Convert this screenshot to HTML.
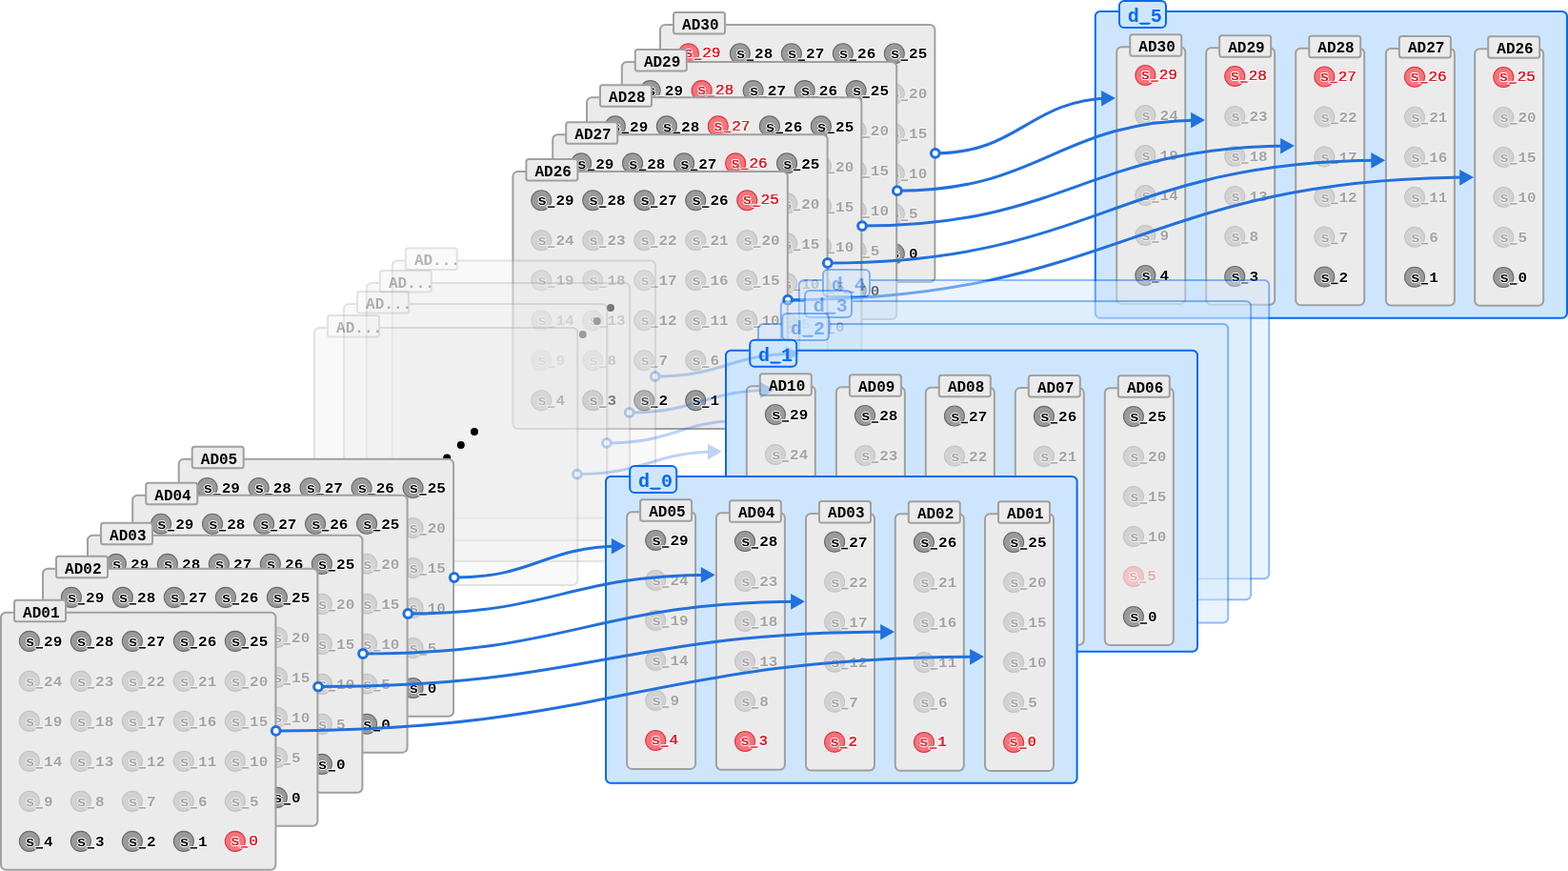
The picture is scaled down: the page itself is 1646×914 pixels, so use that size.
<!DOCTYPE html>
<html lang="en"><head><meta charset="utf-8"><title>AD stacks</title>
<style>
html,body{margin:0;padding:0;background:#fff}
body{width:1646px;height:914px;overflow:hidden}
svg{display:block;font-family:'Liberation Mono','DejaVu Sans Mono',monospace;will-change:transform}
.pn{fill:#ebebeb;stroke:#a0a0a0;stroke-width:2}
.lb{fill:#ebebeb;stroke:#a0a0a0;stroke-width:2}
.lt{font-size:16px;font-weight:700;fill:#000}
.dp{fill:#cee6fd;stroke:#0469f5;stroke-width:2}
.dl{fill:#cee6fd;stroke:#0469f5;stroke-width:2}
.dt{font-size:20px;font-weight:700;fill:#0469f5}
.cd{fill:#9b9b9b;stroke:#6a6a6a;stroke-width:1.1}
.cr{fill:#f6747b;stroke:#de3541;stroke-width:1.1}
.td{font-size:16px;font-weight:700;fill:#000;text-shadow:-1px 0 0 #fff,1px 0 0 #fff,0 1px 0 #fff,0 -1px 0 #fff}
.tr{font-size:16px;font-weight:400;fill:#dc2430;text-shadow:.2px 0 0 #dc2430,-.2px 0 0 #dc2430,-1.2px 0 0 #fff,1.2px 0 0 #fff,0 1.1px 0 #fff,0 -1.1px 0 #fff,.8px .8px 0 #fff,-.8px -.8px 0 #fff,.8px -.8px 0 #fff,-.8px .8px 0 #fff}
.tb{font-size:16px;font-weight:700;fill:#dc2430;text-shadow:-1px 0 0 #fff,1px 0 0 #fff,0 1px 0 #fff,0 -1px 0 #fff}
.ud{fill:#000;stroke:#fff;stroke-width:1.6;paint-order:stroke}
.ur{fill:#dc2430;stroke:#fff;stroke-width:1.6;paint-order:stroke}
.ub{fill:none;stroke:#0469f5;stroke-width:2.1}
.al{fill:none;stroke:#2170dc;stroke-width:3}
.ah{fill:#2170dc}
.ac{fill:#fff;stroke:#2170dc;stroke-width:3}
</style></head>
<body>
<svg width="1646" height="914" viewBox="0 0 1646 914">
<g><rect x="693" y="26.1" width="288.4" height="270" rx="5.2" class="pn"/><g><circle cx="722.85" cy="56.2" r="10.5" class="cr"/><text transform="translate(718.07 60.4) scale(1 .95)" class="tr">s_29</text><rect x="728.77" y="61.5" width="7.5" height="1.5" class="ur"/></g><g><circle cx="776.85" cy="56.2" r="10.5" class="cd"/><text transform="translate(772.85 61.3) scale(1 .95)" class="td">s_28</text><rect x="783.55" y="62.4" width="7.5" height="1.5" class="ud"/></g><g><circle cx="830.85" cy="56.2" r="10.5" class="cd"/><text transform="translate(826.85 61.3) scale(1 .95)" class="td">s_27</text><rect x="837.55" y="62.4" width="7.5" height="1.5" class="ud"/></g><g><circle cx="884.85" cy="56.2" r="10.5" class="cd"/><text transform="translate(880.85 61.3) scale(1 .95)" class="td">s_26</text><rect x="891.55" y="62.4" width="7.5" height="1.5" class="ud"/></g><g><circle cx="938.85" cy="56.2" r="10.5" class="cd"/><text transform="translate(934.85 61.3) scale(1 .95)" class="td">s_25</text><rect x="945.55" y="62.4" width="7.5" height="1.5" class="ud"/></g><g opacity=".3"><circle cx="722.85" cy="98.2" r="10.5" class="cd"/><text transform="translate(718.85 103.3) scale(1 .95)" class="td">s_24</text><rect x="729.55" y="104.4" width="7.5" height="1.5" class="ud"/></g><g opacity=".3"><circle cx="776.85" cy="98.2" r="10.5" class="cd"/><text transform="translate(772.85 103.3) scale(1 .95)" class="td">s_23</text><rect x="783.55" y="104.4" width="7.5" height="1.5" class="ud"/></g><g opacity=".3"><circle cx="830.85" cy="98.2" r="10.5" class="cd"/><text transform="translate(826.85 103.3) scale(1 .95)" class="td">s_22</text><rect x="837.55" y="104.4" width="7.5" height="1.5" class="ud"/></g><g opacity=".3"><circle cx="884.85" cy="98.2" r="10.5" class="cd"/><text transform="translate(880.85 103.3) scale(1 .95)" class="td">s_21</text><rect x="891.55" y="104.4" width="7.5" height="1.5" class="ud"/></g><g opacity=".3"><circle cx="938.85" cy="98.2" r="10.5" class="cd"/><text transform="translate(934.85 103.3) scale(1 .95)" class="td">s_20</text><rect x="945.55" y="104.4" width="7.5" height="1.5" class="ud"/></g><g opacity=".3"><circle cx="722.85" cy="140.2" r="10.5" class="cd"/><text transform="translate(718.85 145.3) scale(1 .95)" class="td">s_19</text><rect x="729.55" y="146.4" width="7.5" height="1.5" class="ud"/></g><g opacity=".3"><circle cx="776.85" cy="140.2" r="10.5" class="cd"/><text transform="translate(772.85 145.3) scale(1 .95)" class="td">s_18</text><rect x="783.55" y="146.4" width="7.5" height="1.5" class="ud"/></g><g opacity=".3"><circle cx="830.85" cy="140.2" r="10.5" class="cd"/><text transform="translate(826.85 145.3) scale(1 .95)" class="td">s_17</text><rect x="837.55" y="146.4" width="7.5" height="1.5" class="ud"/></g><g opacity=".3"><circle cx="884.85" cy="140.2" r="10.5" class="cd"/><text transform="translate(880.85 145.3) scale(1 .95)" class="td">s_16</text><rect x="891.55" y="146.4" width="7.5" height="1.5" class="ud"/></g><g opacity=".3"><circle cx="938.85" cy="140.2" r="10.5" class="cd"/><text transform="translate(934.85 145.3) scale(1 .95)" class="td">s_15</text><rect x="945.55" y="146.4" width="7.5" height="1.5" class="ud"/></g><g opacity=".3"><circle cx="722.85" cy="182.2" r="10.5" class="cd"/><text transform="translate(718.85 187.3) scale(1 .95)" class="td">s_14</text><rect x="729.55" y="188.4" width="7.5" height="1.5" class="ud"/></g><g opacity=".3"><circle cx="776.85" cy="182.2" r="10.5" class="cd"/><text transform="translate(772.85 187.3) scale(1 .95)" class="td">s_13</text><rect x="783.55" y="188.4" width="7.5" height="1.5" class="ud"/></g><g opacity=".3"><circle cx="830.85" cy="182.2" r="10.5" class="cd"/><text transform="translate(826.85 187.3) scale(1 .95)" class="td">s_12</text><rect x="837.55" y="188.4" width="7.5" height="1.5" class="ud"/></g><g opacity=".3"><circle cx="884.85" cy="182.2" r="10.5" class="cd"/><text transform="translate(880.85 187.3) scale(1 .95)" class="td">s_11</text><rect x="891.55" y="188.4" width="7.5" height="1.5" class="ud"/></g><g opacity=".3"><circle cx="938.85" cy="182.2" r="10.5" class="cd"/><text transform="translate(934.85 187.3) scale(1 .95)" class="td">s_10</text><rect x="945.55" y="188.4" width="7.5" height="1.5" class="ud"/></g><g opacity=".3"><circle cx="722.85" cy="224.2" r="10.5" class="cd"/><text transform="translate(718.85 229.3) scale(1 .95)" class="td">s_9</text><rect x="729.55" y="230.4" width="7.5" height="1.5" class="ud"/></g><g opacity=".3"><circle cx="776.85" cy="224.2" r="10.5" class="cd"/><text transform="translate(772.85 229.3) scale(1 .95)" class="td">s_8</text><rect x="783.55" y="230.4" width="7.5" height="1.5" class="ud"/></g><g opacity=".3"><circle cx="830.85" cy="224.2" r="10.5" class="cd"/><text transform="translate(826.85 229.3) scale(1 .95)" class="td">s_7</text><rect x="837.55" y="230.4" width="7.5" height="1.5" class="ud"/></g><g opacity=".3"><circle cx="884.85" cy="224.2" r="10.5" class="cd"/><text transform="translate(880.85 229.3) scale(1 .95)" class="td">s_6</text><rect x="891.55" y="230.4" width="7.5" height="1.5" class="ud"/></g><g opacity=".3"><circle cx="938.85" cy="224.2" r="10.5" class="cd"/><text transform="translate(934.85 229.3) scale(1 .95)" class="td">s_5</text><rect x="945.55" y="230.4" width="7.5" height="1.5" class="ud"/></g><g><circle cx="722.85" cy="266.2" r="10.5" class="cd"/><text transform="translate(718.85 271.3) scale(1 .95)" class="td">s_4</text><rect x="729.55" y="272.4" width="7.5" height="1.5" class="ud"/></g><g><circle cx="776.85" cy="266.2" r="10.5" class="cd"/><text transform="translate(772.85 271.3) scale(1 .95)" class="td">s_3</text><rect x="783.55" y="272.4" width="7.5" height="1.5" class="ud"/></g><g><circle cx="830.85" cy="266.2" r="10.5" class="cd"/><text transform="translate(826.85 271.3) scale(1 .95)" class="td">s_2</text><rect x="837.55" y="272.4" width="7.5" height="1.5" class="ud"/></g><g><circle cx="884.85" cy="266.2" r="10.5" class="cd"/><text transform="translate(880.85 271.3) scale(1 .95)" class="td">s_1</text><rect x="891.55" y="272.4" width="7.5" height="1.5" class="ud"/></g><g><circle cx="938.85" cy="266.2" r="10.5" class="cd"/><text transform="translate(934.85 271.3) scale(1 .95)" class="td">s_0</text><rect x="945.55" y="272.4" width="7.5" height="1.5" class="ud"/></g><rect x="707" y="13.1" width="54" height="22.5" rx="2.5" class="lb"/><text x="716.1" y="31" class="lt">AD30</text></g>
<g><rect x="652.8" y="65" width="288.4" height="270" rx="5.2" class="pn"/><g><circle cx="682.65" cy="95.1" r="10.5" class="cd"/><text transform="translate(678.65 100.2) scale(1 .95)" class="td">s_29</text><rect x="689.35" y="101.3" width="7.5" height="1.5" class="ud"/></g><g><circle cx="736.65" cy="95.1" r="10.5" class="cr"/><text transform="translate(731.87 99.3) scale(1 .95)" class="tr">s_28</text><rect x="742.57" y="100.4" width="7.5" height="1.5" class="ur"/></g><g><circle cx="790.65" cy="95.1" r="10.5" class="cd"/><text transform="translate(786.65 100.2) scale(1 .95)" class="td">s_27</text><rect x="797.35" y="101.3" width="7.5" height="1.5" class="ud"/></g><g><circle cx="844.65" cy="95.1" r="10.5" class="cd"/><text transform="translate(840.65 100.2) scale(1 .95)" class="td">s_26</text><rect x="851.35" y="101.3" width="7.5" height="1.5" class="ud"/></g><g><circle cx="898.65" cy="95.1" r="10.5" class="cd"/><text transform="translate(894.65 100.2) scale(1 .95)" class="td">s_25</text><rect x="905.35" y="101.3" width="7.5" height="1.5" class="ud"/></g><g opacity=".3"><circle cx="682.65" cy="137.1" r="10.5" class="cd"/><text transform="translate(678.65 142.2) scale(1 .95)" class="td">s_24</text><rect x="689.35" y="143.3" width="7.5" height="1.5" class="ud"/></g><g opacity=".3"><circle cx="736.65" cy="137.1" r="10.5" class="cd"/><text transform="translate(732.65 142.2) scale(1 .95)" class="td">s_23</text><rect x="743.35" y="143.3" width="7.5" height="1.5" class="ud"/></g><g opacity=".3"><circle cx="790.65" cy="137.1" r="10.5" class="cd"/><text transform="translate(786.65 142.2) scale(1 .95)" class="td">s_22</text><rect x="797.35" y="143.3" width="7.5" height="1.5" class="ud"/></g><g opacity=".3"><circle cx="844.65" cy="137.1" r="10.5" class="cd"/><text transform="translate(840.65 142.2) scale(1 .95)" class="td">s_21</text><rect x="851.35" y="143.3" width="7.5" height="1.5" class="ud"/></g><g opacity=".3"><circle cx="898.65" cy="137.1" r="10.5" class="cd"/><text transform="translate(894.65 142.2) scale(1 .95)" class="td">s_20</text><rect x="905.35" y="143.3" width="7.5" height="1.5" class="ud"/></g><g opacity=".3"><circle cx="682.65" cy="179.1" r="10.5" class="cd"/><text transform="translate(678.65 184.2) scale(1 .95)" class="td">s_19</text><rect x="689.35" y="185.3" width="7.5" height="1.5" class="ud"/></g><g opacity=".3"><circle cx="736.65" cy="179.1" r="10.5" class="cd"/><text transform="translate(732.65 184.2) scale(1 .95)" class="td">s_18</text><rect x="743.35" y="185.3" width="7.5" height="1.5" class="ud"/></g><g opacity=".3"><circle cx="790.65" cy="179.1" r="10.5" class="cd"/><text transform="translate(786.65 184.2) scale(1 .95)" class="td">s_17</text><rect x="797.35" y="185.3" width="7.5" height="1.5" class="ud"/></g><g opacity=".3"><circle cx="844.65" cy="179.1" r="10.5" class="cd"/><text transform="translate(840.65 184.2) scale(1 .95)" class="td">s_16</text><rect x="851.35" y="185.3" width="7.5" height="1.5" class="ud"/></g><g opacity=".3"><circle cx="898.65" cy="179.1" r="10.5" class="cd"/><text transform="translate(894.65 184.2) scale(1 .95)" class="td">s_15</text><rect x="905.35" y="185.3" width="7.5" height="1.5" class="ud"/></g><g opacity=".3"><circle cx="682.65" cy="221.1" r="10.5" class="cd"/><text transform="translate(678.65 226.2) scale(1 .95)" class="td">s_14</text><rect x="689.35" y="227.3" width="7.5" height="1.5" class="ud"/></g><g opacity=".3"><circle cx="736.65" cy="221.1" r="10.5" class="cd"/><text transform="translate(732.65 226.2) scale(1 .95)" class="td">s_13</text><rect x="743.35" y="227.3" width="7.5" height="1.5" class="ud"/></g><g opacity=".3"><circle cx="790.65" cy="221.1" r="10.5" class="cd"/><text transform="translate(786.65 226.2) scale(1 .95)" class="td">s_12</text><rect x="797.35" y="227.3" width="7.5" height="1.5" class="ud"/></g><g opacity=".3"><circle cx="844.65" cy="221.1" r="10.5" class="cd"/><text transform="translate(840.65 226.2) scale(1 .95)" class="td">s_11</text><rect x="851.35" y="227.3" width="7.5" height="1.5" class="ud"/></g><g opacity=".3"><circle cx="898.65" cy="221.1" r="10.5" class="cd"/><text transform="translate(894.65 226.2) scale(1 .95)" class="td">s_10</text><rect x="905.35" y="227.3" width="7.5" height="1.5" class="ud"/></g><g opacity=".3"><circle cx="682.65" cy="263.1" r="10.5" class="cd"/><text transform="translate(678.65 268.2) scale(1 .95)" class="td">s_9</text><rect x="689.35" y="269.3" width="7.5" height="1.5" class="ud"/></g><g opacity=".3"><circle cx="736.65" cy="263.1" r="10.5" class="cd"/><text transform="translate(732.65 268.2) scale(1 .95)" class="td">s_8</text><rect x="743.35" y="269.3" width="7.5" height="1.5" class="ud"/></g><g opacity=".3"><circle cx="790.65" cy="263.1" r="10.5" class="cd"/><text transform="translate(786.65 268.2) scale(1 .95)" class="td">s_7</text><rect x="797.35" y="269.3" width="7.5" height="1.5" class="ud"/></g><g opacity=".3"><circle cx="844.65" cy="263.1" r="10.5" class="cd"/><text transform="translate(840.65 268.2) scale(1 .95)" class="td">s_6</text><rect x="851.35" y="269.3" width="7.5" height="1.5" class="ud"/></g><g opacity=".3"><circle cx="898.65" cy="263.1" r="10.5" class="cd"/><text transform="translate(894.65 268.2) scale(1 .95)" class="td">s_5</text><rect x="905.35" y="269.3" width="7.5" height="1.5" class="ud"/></g><g><circle cx="682.65" cy="305.1" r="10.5" class="cd"/><text transform="translate(678.65 310.2) scale(1 .95)" class="td">s_4</text><rect x="689.35" y="311.3" width="7.5" height="1.5" class="ud"/></g><g><circle cx="736.65" cy="305.1" r="10.5" class="cd"/><text transform="translate(732.65 310.2) scale(1 .95)" class="td">s_3</text><rect x="743.35" y="311.3" width="7.5" height="1.5" class="ud"/></g><g><circle cx="790.65" cy="305.1" r="10.5" class="cd"/><text transform="translate(786.65 310.2) scale(1 .95)" class="td">s_2</text><rect x="797.35" y="311.3" width="7.5" height="1.5" class="ud"/></g><g><circle cx="844.65" cy="305.1" r="10.5" class="cd"/><text transform="translate(840.65 310.2) scale(1 .95)" class="td">s_1</text><rect x="851.35" y="311.3" width="7.5" height="1.5" class="ud"/></g><g><circle cx="898.65" cy="305.1" r="10.5" class="cd"/><text transform="translate(894.65 310.2) scale(1 .95)" class="td">s_0</text><rect x="905.35" y="311.3" width="7.5" height="1.5" class="ud"/></g><rect x="666.8" y="52" width="54" height="22.5" rx="2.5" class="lb"/><text x="675.9" y="69.9" class="lt">AD29</text></g>
<g><rect x="616" y="102.3" width="288.4" height="270" rx="5.2" class="pn"/><g><circle cx="645.85" cy="132.4" r="10.5" class="cd"/><text transform="translate(641.85 137.5) scale(1 .95)" class="td">s_29</text><rect x="652.55" y="138.6" width="7.5" height="1.5" class="ud"/></g><g><circle cx="699.85" cy="132.4" r="10.5" class="cd"/><text transform="translate(695.85 137.5) scale(1 .95)" class="td">s_28</text><rect x="706.55" y="138.6" width="7.5" height="1.5" class="ud"/></g><g><circle cx="753.85" cy="132.4" r="10.5" class="cr"/><text transform="translate(749.07 136.6) scale(1 .95)" class="tr">s_27</text><rect x="759.77" y="137.7" width="7.5" height="1.5" class="ur"/></g><g><circle cx="807.85" cy="132.4" r="10.5" class="cd"/><text transform="translate(803.85 137.5) scale(1 .95)" class="td">s_26</text><rect x="814.55" y="138.6" width="7.5" height="1.5" class="ud"/></g><g><circle cx="861.85" cy="132.4" r="10.5" class="cd"/><text transform="translate(857.85 137.5) scale(1 .95)" class="td">s_25</text><rect x="868.55" y="138.6" width="7.5" height="1.5" class="ud"/></g><g opacity=".3"><circle cx="645.85" cy="174.4" r="10.5" class="cd"/><text transform="translate(641.85 179.5) scale(1 .95)" class="td">s_24</text><rect x="652.55" y="180.6" width="7.5" height="1.5" class="ud"/></g><g opacity=".3"><circle cx="699.85" cy="174.4" r="10.5" class="cd"/><text transform="translate(695.85 179.5) scale(1 .95)" class="td">s_23</text><rect x="706.55" y="180.6" width="7.5" height="1.5" class="ud"/></g><g opacity=".3"><circle cx="753.85" cy="174.4" r="10.5" class="cd"/><text transform="translate(749.85 179.5) scale(1 .95)" class="td">s_22</text><rect x="760.55" y="180.6" width="7.5" height="1.5" class="ud"/></g><g opacity=".3"><circle cx="807.85" cy="174.4" r="10.5" class="cd"/><text transform="translate(803.85 179.5) scale(1 .95)" class="td">s_21</text><rect x="814.55" y="180.6" width="7.5" height="1.5" class="ud"/></g><g opacity=".3"><circle cx="861.85" cy="174.4" r="10.5" class="cd"/><text transform="translate(857.85 179.5) scale(1 .95)" class="td">s_20</text><rect x="868.55" y="180.6" width="7.5" height="1.5" class="ud"/></g><g opacity=".3"><circle cx="645.85" cy="216.4" r="10.5" class="cd"/><text transform="translate(641.85 221.5) scale(1 .95)" class="td">s_19</text><rect x="652.55" y="222.6" width="7.5" height="1.5" class="ud"/></g><g opacity=".3"><circle cx="699.85" cy="216.4" r="10.5" class="cd"/><text transform="translate(695.85 221.5) scale(1 .95)" class="td">s_18</text><rect x="706.55" y="222.6" width="7.5" height="1.5" class="ud"/></g><g opacity=".3"><circle cx="753.85" cy="216.4" r="10.5" class="cd"/><text transform="translate(749.85 221.5) scale(1 .95)" class="td">s_17</text><rect x="760.55" y="222.6" width="7.5" height="1.5" class="ud"/></g><g opacity=".3"><circle cx="807.85" cy="216.4" r="10.5" class="cd"/><text transform="translate(803.85 221.5) scale(1 .95)" class="td">s_16</text><rect x="814.55" y="222.6" width="7.5" height="1.5" class="ud"/></g><g opacity=".3"><circle cx="861.85" cy="216.4" r="10.5" class="cd"/><text transform="translate(857.85 221.5) scale(1 .95)" class="td">s_15</text><rect x="868.55" y="222.6" width="7.5" height="1.5" class="ud"/></g><g opacity=".3"><circle cx="645.85" cy="258.4" r="10.5" class="cd"/><text transform="translate(641.85 263.5) scale(1 .95)" class="td">s_14</text><rect x="652.55" y="264.6" width="7.5" height="1.5" class="ud"/></g><g opacity=".3"><circle cx="699.85" cy="258.4" r="10.5" class="cd"/><text transform="translate(695.85 263.5) scale(1 .95)" class="td">s_13</text><rect x="706.55" y="264.6" width="7.5" height="1.5" class="ud"/></g><g opacity=".3"><circle cx="753.85" cy="258.4" r="10.5" class="cd"/><text transform="translate(749.85 263.5) scale(1 .95)" class="td">s_12</text><rect x="760.55" y="264.6" width="7.5" height="1.5" class="ud"/></g><g opacity=".3"><circle cx="807.85" cy="258.4" r="10.5" class="cd"/><text transform="translate(803.85 263.5) scale(1 .95)" class="td">s_11</text><rect x="814.55" y="264.6" width="7.5" height="1.5" class="ud"/></g><g opacity=".3"><circle cx="861.85" cy="258.4" r="10.5" class="cd"/><text transform="translate(857.85 263.5) scale(1 .95)" class="td">s_10</text><rect x="868.55" y="264.6" width="7.5" height="1.5" class="ud"/></g><g opacity=".3"><circle cx="645.85" cy="300.4" r="10.5" class="cd"/><text transform="translate(641.85 305.5) scale(1 .95)" class="td">s_9</text><rect x="652.55" y="306.6" width="7.5" height="1.5" class="ud"/></g><g opacity=".3"><circle cx="699.85" cy="300.4" r="10.5" class="cd"/><text transform="translate(695.85 305.5) scale(1 .95)" class="td">s_8</text><rect x="706.55" y="306.6" width="7.5" height="1.5" class="ud"/></g><g opacity=".3"><circle cx="753.85" cy="300.4" r="10.5" class="cd"/><text transform="translate(749.85 305.5) scale(1 .95)" class="td">s_7</text><rect x="760.55" y="306.6" width="7.5" height="1.5" class="ud"/></g><g opacity=".3"><circle cx="807.85" cy="300.4" r="10.5" class="cd"/><text transform="translate(803.85 305.5) scale(1 .95)" class="td">s_6</text><rect x="814.55" y="306.6" width="7.5" height="1.5" class="ud"/></g><g opacity=".3"><circle cx="861.85" cy="300.4" r="10.5" class="cd"/><text transform="translate(857.85 305.5) scale(1 .95)" class="td">s_5</text><rect x="868.55" y="306.6" width="7.5" height="1.5" class="ud"/></g><g><circle cx="645.85" cy="342.4" r="10.5" class="cd"/><text transform="translate(641.85 347.5) scale(1 .95)" class="td">s_4</text><rect x="652.55" y="348.6" width="7.5" height="1.5" class="ud"/></g><g><circle cx="699.85" cy="342.4" r="10.5" class="cd"/><text transform="translate(695.85 347.5) scale(1 .95)" class="td">s_3</text><rect x="706.55" y="348.6" width="7.5" height="1.5" class="ud"/></g><g><circle cx="753.85" cy="342.4" r="10.5" class="cd"/><text transform="translate(749.85 347.5) scale(1 .95)" class="td">s_2</text><rect x="760.55" y="348.6" width="7.5" height="1.5" class="ud"/></g><g><circle cx="807.85" cy="342.4" r="10.5" class="cd"/><text transform="translate(803.85 347.5) scale(1 .95)" class="td">s_1</text><rect x="814.55" y="348.6" width="7.5" height="1.5" class="ud"/></g><g><circle cx="861.85" cy="342.4" r="10.5" class="cd"/><text transform="translate(857.85 347.5) scale(1 .95)" class="td">s_0</text><rect x="868.55" y="348.6" width="7.5" height="1.5" class="ud"/></g><rect x="630" y="89.3" width="54" height="22.5" rx="2.5" class="lb"/><text x="639.1" y="107.2" class="lt">AD28</text></g>
<g><rect x="580.2" y="141.3" width="288.4" height="270" rx="5.2" class="pn"/><g><circle cx="610.05" cy="171.4" r="10.5" class="cd"/><text transform="translate(606.05 176.5) scale(1 .95)" class="td">s_29</text><rect x="616.75" y="177.6" width="7.5" height="1.5" class="ud"/></g><g><circle cx="664.05" cy="171.4" r="10.5" class="cd"/><text transform="translate(660.05 176.5) scale(1 .95)" class="td">s_28</text><rect x="670.75" y="177.6" width="7.5" height="1.5" class="ud"/></g><g><circle cx="718.05" cy="171.4" r="10.5" class="cd"/><text transform="translate(714.05 176.5) scale(1 .95)" class="td">s_27</text><rect x="724.75" y="177.6" width="7.5" height="1.5" class="ud"/></g><g><circle cx="772.05" cy="171.4" r="10.5" class="cr"/><text transform="translate(767.27 175.6) scale(1 .95)" class="tr">s_26</text><rect x="777.97" y="176.7" width="7.5" height="1.5" class="ur"/></g><g><circle cx="826.05" cy="171.4" r="10.5" class="cd"/><text transform="translate(822.05 176.5) scale(1 .95)" class="td">s_25</text><rect x="832.75" y="177.6" width="7.5" height="1.5" class="ud"/></g><g opacity=".3"><circle cx="610.05" cy="213.4" r="10.5" class="cd"/><text transform="translate(606.05 218.5) scale(1 .95)" class="td">s_24</text><rect x="616.75" y="219.6" width="7.5" height="1.5" class="ud"/></g><g opacity=".3"><circle cx="664.05" cy="213.4" r="10.5" class="cd"/><text transform="translate(660.05 218.5) scale(1 .95)" class="td">s_23</text><rect x="670.75" y="219.6" width="7.5" height="1.5" class="ud"/></g><g opacity=".3"><circle cx="718.05" cy="213.4" r="10.5" class="cd"/><text transform="translate(714.05 218.5) scale(1 .95)" class="td">s_22</text><rect x="724.75" y="219.6" width="7.5" height="1.5" class="ud"/></g><g opacity=".3"><circle cx="772.05" cy="213.4" r="10.5" class="cd"/><text transform="translate(768.05 218.5) scale(1 .95)" class="td">s_21</text><rect x="778.75" y="219.6" width="7.5" height="1.5" class="ud"/></g><g opacity=".3"><circle cx="826.05" cy="213.4" r="10.5" class="cd"/><text transform="translate(822.05 218.5) scale(1 .95)" class="td">s_20</text><rect x="832.75" y="219.6" width="7.5" height="1.5" class="ud"/></g><g opacity=".3"><circle cx="610.05" cy="255.4" r="10.5" class="cd"/><text transform="translate(606.05 260.5) scale(1 .95)" class="td">s_19</text><rect x="616.75" y="261.6" width="7.5" height="1.5" class="ud"/></g><g opacity=".3"><circle cx="664.05" cy="255.4" r="10.5" class="cd"/><text transform="translate(660.05 260.5) scale(1 .95)" class="td">s_18</text><rect x="670.75" y="261.6" width="7.5" height="1.5" class="ud"/></g><g opacity=".3"><circle cx="718.05" cy="255.4" r="10.5" class="cd"/><text transform="translate(714.05 260.5) scale(1 .95)" class="td">s_17</text><rect x="724.75" y="261.6" width="7.5" height="1.5" class="ud"/></g><g opacity=".3"><circle cx="772.05" cy="255.4" r="10.5" class="cd"/><text transform="translate(768.05 260.5) scale(1 .95)" class="td">s_16</text><rect x="778.75" y="261.6" width="7.5" height="1.5" class="ud"/></g><g opacity=".3"><circle cx="826.05" cy="255.4" r="10.5" class="cd"/><text transform="translate(822.05 260.5) scale(1 .95)" class="td">s_15</text><rect x="832.75" y="261.6" width="7.5" height="1.5" class="ud"/></g><g opacity=".3"><circle cx="610.05" cy="297.4" r="10.5" class="cd"/><text transform="translate(606.05 302.5) scale(1 .95)" class="td">s_14</text><rect x="616.75" y="303.6" width="7.5" height="1.5" class="ud"/></g><g opacity=".3"><circle cx="664.05" cy="297.4" r="10.5" class="cd"/><text transform="translate(660.05 302.5) scale(1 .95)" class="td">s_13</text><rect x="670.75" y="303.6" width="7.5" height="1.5" class="ud"/></g><g opacity=".3"><circle cx="718.05" cy="297.4" r="10.5" class="cd"/><text transform="translate(714.05 302.5) scale(1 .95)" class="td">s_12</text><rect x="724.75" y="303.6" width="7.5" height="1.5" class="ud"/></g><g opacity=".3"><circle cx="772.05" cy="297.4" r="10.5" class="cd"/><text transform="translate(768.05 302.5) scale(1 .95)" class="td">s_11</text><rect x="778.75" y="303.6" width="7.5" height="1.5" class="ud"/></g><g opacity=".3"><circle cx="826.05" cy="297.4" r="10.5" class="cd"/><text transform="translate(822.05 302.5) scale(1 .95)" class="td">s_10</text><rect x="832.75" y="303.6" width="7.5" height="1.5" class="ud"/></g><g opacity=".3"><circle cx="610.05" cy="339.4" r="10.5" class="cd"/><text transform="translate(606.05 344.5) scale(1 .95)" class="td">s_9</text><rect x="616.75" y="345.6" width="7.5" height="1.5" class="ud"/></g><g opacity=".3"><circle cx="664.05" cy="339.4" r="10.5" class="cd"/><text transform="translate(660.05 344.5) scale(1 .95)" class="td">s_8</text><rect x="670.75" y="345.6" width="7.5" height="1.5" class="ud"/></g><g opacity=".3"><circle cx="718.05" cy="339.4" r="10.5" class="cd"/><text transform="translate(714.05 344.5) scale(1 .95)" class="td">s_7</text><rect x="724.75" y="345.6" width="7.5" height="1.5" class="ud"/></g><g opacity=".3"><circle cx="772.05" cy="339.4" r="10.5" class="cd"/><text transform="translate(768.05 344.5) scale(1 .95)" class="td">s_6</text><rect x="778.75" y="345.6" width="7.5" height="1.5" class="ud"/></g><g opacity=".3"><circle cx="826.05" cy="339.4" r="10.5" class="cd"/><text transform="translate(822.05 344.5) scale(1 .95)" class="td">s_5</text><rect x="832.75" y="345.6" width="7.5" height="1.5" class="ud"/></g><g><circle cx="610.05" cy="381.4" r="10.5" class="cd"/><text transform="translate(606.05 386.5) scale(1 .95)" class="td">s_4</text><rect x="616.75" y="387.6" width="7.5" height="1.5" class="ud"/></g><g><circle cx="664.05" cy="381.4" r="10.5" class="cd"/><text transform="translate(660.05 386.5) scale(1 .95)" class="td">s_3</text><rect x="670.75" y="387.6" width="7.5" height="1.5" class="ud"/></g><g><circle cx="718.05" cy="381.4" r="10.5" class="cd"/><text transform="translate(714.05 386.5) scale(1 .95)" class="td">s_2</text><rect x="724.75" y="387.6" width="7.5" height="1.5" class="ud"/></g><g><circle cx="772.05" cy="381.4" r="10.5" class="cd"/><text transform="translate(768.05 386.5) scale(1 .95)" class="td">s_1</text><rect x="778.75" y="387.6" width="7.5" height="1.5" class="ud"/></g><g><circle cx="826.05" cy="381.4" r="10.5" class="cd"/><text transform="translate(822.05 386.5) scale(1 .95)" class="td">s_0</text><rect x="832.75" y="387.6" width="7.5" height="1.5" class="ud"/></g><rect x="594.2" y="128.3" width="54" height="22.5" rx="2.5" class="lb"/><text x="603.3" y="146.2" class="lt">AD27</text></g>
<g><rect x="538.4" y="180.1" width="288.4" height="270" rx="5.2" class="pn"/><g><circle cx="568.25" cy="210.2" r="10.5" class="cd"/><text transform="translate(564.25 215.3) scale(1 .95)" class="td">s_29</text><rect x="574.95" y="216.4" width="7.5" height="1.5" class="ud"/></g><g><circle cx="622.25" cy="210.2" r="10.5" class="cd"/><text transform="translate(618.25 215.3) scale(1 .95)" class="td">s_28</text><rect x="628.95" y="216.4" width="7.5" height="1.5" class="ud"/></g><g><circle cx="676.25" cy="210.2" r="10.5" class="cd"/><text transform="translate(672.25 215.3) scale(1 .95)" class="td">s_27</text><rect x="682.95" y="216.4" width="7.5" height="1.5" class="ud"/></g><g><circle cx="730.25" cy="210.2" r="10.5" class="cd"/><text transform="translate(726.25 215.3) scale(1 .95)" class="td">s_26</text><rect x="736.95" y="216.4" width="7.5" height="1.5" class="ud"/></g><g><circle cx="784.25" cy="210.2" r="10.5" class="cr"/><text transform="translate(779.47 214.4) scale(1 .95)" class="tr">s_25</text><rect x="790.17" y="215.5" width="7.5" height="1.5" class="ur"/></g><g opacity=".3"><circle cx="568.25" cy="252.2" r="10.5" class="cd"/><text transform="translate(564.25 257.3) scale(1 .95)" class="td">s_24</text><rect x="574.95" y="258.4" width="7.5" height="1.5" class="ud"/></g><g opacity=".3"><circle cx="622.25" cy="252.2" r="10.5" class="cd"/><text transform="translate(618.25 257.3) scale(1 .95)" class="td">s_23</text><rect x="628.95" y="258.4" width="7.5" height="1.5" class="ud"/></g><g opacity=".3"><circle cx="676.25" cy="252.2" r="10.5" class="cd"/><text transform="translate(672.25 257.3) scale(1 .95)" class="td">s_22</text><rect x="682.95" y="258.4" width="7.5" height="1.5" class="ud"/></g><g opacity=".3"><circle cx="730.25" cy="252.2" r="10.5" class="cd"/><text transform="translate(726.25 257.3) scale(1 .95)" class="td">s_21</text><rect x="736.95" y="258.4" width="7.5" height="1.5" class="ud"/></g><g opacity=".3"><circle cx="784.25" cy="252.2" r="10.5" class="cd"/><text transform="translate(780.25 257.3) scale(1 .95)" class="td">s_20</text><rect x="790.95" y="258.4" width="7.5" height="1.5" class="ud"/></g><g opacity=".3"><circle cx="568.25" cy="294.2" r="10.5" class="cd"/><text transform="translate(564.25 299.3) scale(1 .95)" class="td">s_19</text><rect x="574.95" y="300.4" width="7.5" height="1.5" class="ud"/></g><g opacity=".3"><circle cx="622.25" cy="294.2" r="10.5" class="cd"/><text transform="translate(618.25 299.3) scale(1 .95)" class="td">s_18</text><rect x="628.95" y="300.4" width="7.5" height="1.5" class="ud"/></g><g opacity=".3"><circle cx="676.25" cy="294.2" r="10.5" class="cd"/><text transform="translate(672.25 299.3) scale(1 .95)" class="td">s_17</text><rect x="682.95" y="300.4" width="7.5" height="1.5" class="ud"/></g><g opacity=".3"><circle cx="730.25" cy="294.2" r="10.5" class="cd"/><text transform="translate(726.25 299.3) scale(1 .95)" class="td">s_16</text><rect x="736.95" y="300.4" width="7.5" height="1.5" class="ud"/></g><g opacity=".3"><circle cx="784.25" cy="294.2" r="10.5" class="cd"/><text transform="translate(780.25 299.3) scale(1 .95)" class="td">s_15</text><rect x="790.95" y="300.4" width="7.5" height="1.5" class="ud"/></g><g opacity=".3"><circle cx="568.25" cy="336.2" r="10.5" class="cd"/><text transform="translate(564.25 341.3) scale(1 .95)" class="td">s_14</text><rect x="574.95" y="342.4" width="7.5" height="1.5" class="ud"/></g><g opacity=".3"><circle cx="622.25" cy="336.2" r="10.5" class="cd"/><text transform="translate(618.25 341.3) scale(1 .95)" class="td">s_13</text><rect x="628.95" y="342.4" width="7.5" height="1.5" class="ud"/></g><g opacity=".3"><circle cx="676.25" cy="336.2" r="10.5" class="cd"/><text transform="translate(672.25 341.3) scale(1 .95)" class="td">s_12</text><rect x="682.95" y="342.4" width="7.5" height="1.5" class="ud"/></g><g opacity=".3"><circle cx="730.25" cy="336.2" r="10.5" class="cd"/><text transform="translate(726.25 341.3) scale(1 .95)" class="td">s_11</text><rect x="736.95" y="342.4" width="7.5" height="1.5" class="ud"/></g><g opacity=".3"><circle cx="784.25" cy="336.2" r="10.5" class="cd"/><text transform="translate(780.25 341.3) scale(1 .95)" class="td">s_10</text><rect x="790.95" y="342.4" width="7.5" height="1.5" class="ud"/></g><g opacity=".3"><circle cx="568.25" cy="378.2" r="10.5" class="cd"/><text transform="translate(564.25 383.3) scale(1 .95)" class="td">s_9</text><rect x="574.95" y="384.4" width="7.5" height="1.5" class="ud"/></g><g opacity=".3"><circle cx="622.25" cy="378.2" r="10.5" class="cd"/><text transform="translate(618.25 383.3) scale(1 .95)" class="td">s_8</text><rect x="628.95" y="384.4" width="7.5" height="1.5" class="ud"/></g><g opacity=".3"><circle cx="676.25" cy="378.2" r="10.5" class="cd"/><text transform="translate(672.25 383.3) scale(1 .95)" class="td">s_7</text><rect x="682.95" y="384.4" width="7.5" height="1.5" class="ud"/></g><g opacity=".3"><circle cx="730.25" cy="378.2" r="10.5" class="cd"/><text transform="translate(726.25 383.3) scale(1 .95)" class="td">s_6</text><rect x="736.95" y="384.4" width="7.5" height="1.5" class="ud"/></g><g opacity=".3"><circle cx="784.25" cy="378.2" r="10.5" class="cd"/><text transform="translate(780.25 383.3) scale(1 .95)" class="td">s_5</text><rect x="790.95" y="384.4" width="7.5" height="1.5" class="ud"/></g><g><circle cx="568.25" cy="420.2" r="10.5" class="cd"/><text transform="translate(564.25 425.3) scale(1 .95)" class="td">s_4</text><rect x="574.95" y="426.4" width="7.5" height="1.5" class="ud"/></g><g><circle cx="622.25" cy="420.2" r="10.5" class="cd"/><text transform="translate(618.25 425.3) scale(1 .95)" class="td">s_3</text><rect x="628.95" y="426.4" width="7.5" height="1.5" class="ud"/></g><g><circle cx="676.25" cy="420.2" r="10.5" class="cd"/><text transform="translate(672.25 425.3) scale(1 .95)" class="td">s_2</text><rect x="682.95" y="426.4" width="7.5" height="1.5" class="ud"/></g><g><circle cx="730.25" cy="420.2" r="10.5" class="cd"/><text transform="translate(726.25 425.3) scale(1 .95)" class="td">s_1</text><rect x="736.95" y="426.4" width="7.5" height="1.5" class="ud"/></g><g><circle cx="784.25" cy="420.2" r="10.5" class="cd"/><text transform="translate(780.25 425.3) scale(1 .95)" class="td">s_0</text><rect x="790.95" y="426.4" width="7.5" height="1.5" class="ud"/></g><rect x="552.4" y="167.1" width="54" height="22.5" rx="2.5" class="lb"/><text x="561.5" y="185" class="lt">AD26</text></g>
<g><rect x="1149.8" y="12" width="495.2" height="321.8" rx="5.2" class="dp"/><g><rect x="1172.25" y="49.3" width="72" height="269.6" rx="5.2" class="pn"/><g><circle cx="1202.35" cy="79.05" r="10.5" class="cr"/><text transform="translate(1197.57 83.25) scale(1 .95)" class="tr">s_29</text><rect x="1208.27" y="84.35" width="7.5" height="1.5" class="ur"/></g><g opacity=".3"><circle cx="1202.35" cy="121.05" r="10.5" class="cd"/><text transform="translate(1198.35 126.15) scale(1 .95)" class="td">s_24</text><rect x="1209.05" y="127.25" width="7.5" height="1.5" class="ud"/></g><g opacity=".3"><circle cx="1202.35" cy="163.05" r="10.5" class="cd"/><text transform="translate(1198.35 168.15) scale(1 .95)" class="td">s_19</text><rect x="1209.05" y="169.25" width="7.5" height="1.5" class="ud"/></g><g opacity=".3"><circle cx="1202.35" cy="205.05" r="10.5" class="cd"/><text transform="translate(1198.35 210.15) scale(1 .95)" class="td">s_14</text><rect x="1209.05" y="211.25" width="7.5" height="1.5" class="ud"/></g><g opacity=".3"><circle cx="1202.35" cy="247.05" r="10.5" class="cd"/><text transform="translate(1198.35 252.15) scale(1 .95)" class="td">s_9</text><rect x="1209.05" y="253.25" width="7.5" height="1.5" class="ud"/></g><g><circle cx="1202.35" cy="289.05" r="10.5" class="cd"/><text transform="translate(1198.35 294.15) scale(1 .95)" class="td">s_4</text><rect x="1209.05" y="295.25" width="7.5" height="1.5" class="ud"/></g><rect x="1186.25" y="36.3" width="54" height="22.5" rx="2.5" class="lb"/><text x="1195.35" y="53.7" class="lt">AD30</text></g><g><rect x="1266.15" y="50.25" width="72" height="269.6" rx="5.2" class="pn"/><g><circle cx="1296.25" cy="80" r="10.5" class="cr"/><text transform="translate(1291.47 84.2) scale(1 .95)" class="tr">s_28</text><rect x="1302.17" y="85.3" width="7.5" height="1.5" class="ur"/></g><g opacity=".3"><circle cx="1296.25" cy="122" r="10.5" class="cd"/><text transform="translate(1292.25 127.1) scale(1 .95)" class="td">s_23</text><rect x="1302.95" y="128.2" width="7.5" height="1.5" class="ud"/></g><g opacity=".3"><circle cx="1296.25" cy="164" r="10.5" class="cd"/><text transform="translate(1292.25 169.1) scale(1 .95)" class="td">s_18</text><rect x="1302.95" y="170.2" width="7.5" height="1.5" class="ud"/></g><g opacity=".3"><circle cx="1296.25" cy="206" r="10.5" class="cd"/><text transform="translate(1292.25 211.1) scale(1 .95)" class="td">s_13</text><rect x="1302.95" y="212.2" width="7.5" height="1.5" class="ud"/></g><g opacity=".3"><circle cx="1296.25" cy="248" r="10.5" class="cd"/><text transform="translate(1292.25 253.1) scale(1 .95)" class="td">s_8</text><rect x="1302.95" y="254.2" width="7.5" height="1.5" class="ud"/></g><g><circle cx="1296.25" cy="290" r="10.5" class="cd"/><text transform="translate(1292.25 295.1) scale(1 .95)" class="td">s_3</text><rect x="1302.95" y="296.2" width="7.5" height="1.5" class="ud"/></g><rect x="1280.15" y="37.25" width="54" height="22.5" rx="2.5" class="lb"/><text x="1289.25" y="54.65" class="lt">AD29</text></g><g><rect x="1360.2" y="50.7" width="72" height="269.6" rx="5.2" class="pn"/><g><circle cx="1390.3" cy="80.45" r="10.5" class="cr"/><text transform="translate(1385.52 84.65) scale(1 .95)" class="tr">s_27</text><rect x="1396.22" y="85.75" width="7.5" height="1.5" class="ur"/></g><g opacity=".3"><circle cx="1390.3" cy="122.45" r="10.5" class="cd"/><text transform="translate(1386.3 127.55) scale(1 .95)" class="td">s_22</text><rect x="1397" y="128.65" width="7.5" height="1.5" class="ud"/></g><g opacity=".3"><circle cx="1390.3" cy="164.45" r="10.5" class="cd"/><text transform="translate(1386.3 169.55) scale(1 .95)" class="td">s_17</text><rect x="1397" y="170.65" width="7.5" height="1.5" class="ud"/></g><g opacity=".3"><circle cx="1390.3" cy="206.45" r="10.5" class="cd"/><text transform="translate(1386.3 211.55) scale(1 .95)" class="td">s_12</text><rect x="1397" y="212.65" width="7.5" height="1.5" class="ud"/></g><g opacity=".3"><circle cx="1390.3" cy="248.45" r="10.5" class="cd"/><text transform="translate(1386.3 253.55) scale(1 .95)" class="td">s_7</text><rect x="1397" y="254.65" width="7.5" height="1.5" class="ud"/></g><g><circle cx="1390.3" cy="290.45" r="10.5" class="cd"/><text transform="translate(1386.3 295.55) scale(1 .95)" class="td">s_2</text><rect x="1397" y="296.65" width="7.5" height="1.5" class="ud"/></g><rect x="1374.2" y="37.7" width="54" height="22.5" rx="2.5" class="lb"/><text x="1383.3" y="55.1" class="lt">AD28</text></g><g><rect x="1454.9" y="51" width="72" height="269.6" rx="5.2" class="pn"/><g><circle cx="1485" cy="80.75" r="10.5" class="cr"/><text transform="translate(1480.22 84.95) scale(1 .95)" class="tr">s_26</text><rect x="1490.92" y="86.05" width="7.5" height="1.5" class="ur"/></g><g opacity=".3"><circle cx="1485" cy="122.75" r="10.5" class="cd"/><text transform="translate(1481 127.85) scale(1 .95)" class="td">s_21</text><rect x="1491.7" y="128.95" width="7.5" height="1.5" class="ud"/></g><g opacity=".3"><circle cx="1485" cy="164.75" r="10.5" class="cd"/><text transform="translate(1481 169.85) scale(1 .95)" class="td">s_16</text><rect x="1491.7" y="170.95" width="7.5" height="1.5" class="ud"/></g><g opacity=".3"><circle cx="1485" cy="206.75" r="10.5" class="cd"/><text transform="translate(1481 211.85) scale(1 .95)" class="td">s_11</text><rect x="1491.7" y="212.95" width="7.5" height="1.5" class="ud"/></g><g opacity=".3"><circle cx="1485" cy="248.75" r="10.5" class="cd"/><text transform="translate(1481 253.85) scale(1 .95)" class="td">s_6</text><rect x="1491.7" y="254.95" width="7.5" height="1.5" class="ud"/></g><g><circle cx="1485" cy="290.75" r="10.5" class="cd"/><text transform="translate(1481 295.85) scale(1 .95)" class="td">s_1</text><rect x="1491.7" y="296.95" width="7.5" height="1.5" class="ud"/></g><rect x="1468.9" y="38" width="54" height="22.5" rx="2.5" class="lb"/><text x="1478" y="55.4" class="lt">AD27</text></g><g><rect x="1548.2" y="51.25" width="72" height="269.6" rx="5.2" class="pn"/><g><circle cx="1578.3" cy="81" r="10.5" class="cr"/><text transform="translate(1573.52 85.2) scale(1 .95)" class="tr">s_25</text><rect x="1584.22" y="86.3" width="7.5" height="1.5" class="ur"/></g><g opacity=".3"><circle cx="1578.3" cy="123" r="10.5" class="cd"/><text transform="translate(1574.3 128.1) scale(1 .95)" class="td">s_20</text><rect x="1585" y="129.2" width="7.5" height="1.5" class="ud"/></g><g opacity=".3"><circle cx="1578.3" cy="165" r="10.5" class="cd"/><text transform="translate(1574.3 170.1) scale(1 .95)" class="td">s_15</text><rect x="1585" y="171.2" width="7.5" height="1.5" class="ud"/></g><g opacity=".3"><circle cx="1578.3" cy="207" r="10.5" class="cd"/><text transform="translate(1574.3 212.1) scale(1 .95)" class="td">s_10</text><rect x="1585" y="213.2" width="7.5" height="1.5" class="ud"/></g><g opacity=".3"><circle cx="1578.3" cy="249" r="10.5" class="cd"/><text transform="translate(1574.3 254.1) scale(1 .95)" class="td">s_5</text><rect x="1585" y="255.2" width="7.5" height="1.5" class="ud"/></g><g><circle cx="1578.3" cy="291" r="10.5" class="cd"/><text transform="translate(1574.3 296.1) scale(1 .95)" class="td">s_0</text><rect x="1585" y="297.2" width="7.5" height="1.5" class="ud"/></g><rect x="1562.2" y="38.25" width="54" height="22.5" rx="2.5" class="lb"/><text x="1571.3" y="55.65" class="lt">AD26</text></g><rect x="1175" y="1" width="49" height="28" rx="5" class="dl"/><text x="1183.8" y="22.8" class="dt">d_5</text><path d="M1196.9,24.75h9.8" class="ub"/></g>
<g><path d="M981.8,160.8C1070.63,160.8 1079.56,105.14 1165.4,103.06" class="al"/><path d="M1156.1,94.9L1170.9,103L1156.1,111.6Z" class="ah"/><circle cx="981.8" cy="160.8" r="4.4" class="ac"/></g>
<g><path d="M941.9,200.2C1095.02,200.2 1109.3,127.51 1259.4,125.93" class="al"/><path d="M1250.1,117.8L1264.9,125.9L1250.1,134.5Z" class="ah"/><circle cx="941.9" cy="200.2" r="4.4" class="ac"/></g>
<g><path d="M905,237.1C1120.95,237.1 1140.48,154.29 1353.4,153.01" class="al"/><path d="M1344.1,144.9L1358.9,153L1344.1,161.6Z" class="ah"/><circle cx="905" cy="237.1" r="4.4" class="ac"/></g>
<g><path d="M868.8,276C1147.83,276 1172.61,169.48 1448.6,168.21" class="al"/><path d="M1439.3,160.1L1454.1,168.2L1439.3,176.8Z" class="ah"/><circle cx="868.8" cy="276" r="4.4" class="ac"/></g>
<g><path d="M827.1,314.7C1170.74,314.7 1200.9,187.34 1541.5,186.11" class="al"/><path d="M1532.2,178L1547,186.1L1532.2,194.7Z" class="ah"/><circle cx="827.1" cy="314.7" r="4.4" class="ac"/></g>
<circle cx="641" cy="323" r="4" fill="#000"/>
<circle cx="626.7" cy="337" r="4" fill="#000"/>
<circle cx="611.8" cy="351" r="4" fill="#000"/>
<g opacity=".3"><rect x="411.8" y="273.4" width="276.3" height="270" rx="5.2" class="pn"/><rect x="425.8" y="260.4" width="54" height="22.5" rx="2.5" class="lb"/><text x="434.9" y="278.3" class="lt">AD...</text></g>
<g opacity=".3"><rect x="384.8" y="297" width="276.3" height="270" rx="5.2" class="pn"/><rect x="398.8" y="284" width="54" height="22.5" rx="2.5" class="lb"/><text x="407.9" y="301.9" class="lt">AD...</text></g>
<g opacity=".3"><rect x="361" y="319.1" width="276.3" height="270" rx="5.2" class="pn"/><rect x="375" y="306.1" width="54" height="22.5" rx="2.5" class="lb"/><text x="384.1" y="324" class="lt">AD...</text></g>
<g opacity=".3"><rect x="330" y="344" width="276.3" height="270" rx="5.2" class="pn"/><rect x="344" y="331" width="54" height="22.5" rx="2.5" class="lb"/><text x="353.1" y="348.9" class="lt">AD...</text></g>
<g opacity=".45"><rect x="838.8" y="293.9" width="493.4" height="313.4" rx="5.2" class="dp"/><rect x="864" y="282.9" width="49" height="28" rx="5" class="dl"/><text x="872.8" y="304.7" class="dt">d_4</text><path d="M885.9,306.65h9.8" class="ub"/></g>
<g opacity=".45"><rect x="819.8" y="316" width="493.3" height="313.3" rx="5.2" class="dp"/><rect x="845" y="305" width="49" height="28" rx="5" class="dl"/><text x="853.8" y="326.8" class="dt">d_3</text><path d="M866.9,328.75h9.8" class="ub"/></g>
<g opacity=".45"><rect x="796" y="340" width="493.2" height="313.5" rx="5.2" class="dp"/><rect x="821.2" y="329" width="49" height="28" rx="5" class="dl"/><text x="830" y="350.8" class="dt">d_2</text><path d="M843.1,352.75h9.8" class="ub"/></g>
<g opacity=".3"><path d="M636.9,464.9C706.28,464.9 713.59,442.13 780,441.04" class="al"/><path d="M770.7,432.9L785.5,441L770.7,449.6Z" class="ah"/><circle cx="636.9" cy="464.9" r="4.4" class="ac"/></g>
<g opacity=".3"><path d="M605.9,497.6C676.87,497.6 684.31,474.9 752.3,473.84" class="al"/><path d="M743,465.7L757.8,473.8L743,482.4Z" class="ah"/><circle cx="605.9" cy="497.6" r="4.4" class="ac"/></g>
<g><rect x="762" y="367.8" width="495" height="315.9" rx="5.2" class="dp"/><g><rect x="783.8" y="405.2" width="72" height="269.6" rx="5.2" class="pn"/><g><circle cx="813.9" cy="434.95" r="10.5" class="cd"/><text transform="translate(809.9 440.05) scale(1 .95)" class="td">s_29</text><rect x="820.6" y="441.15" width="7.5" height="1.5" class="ud"/></g><g opacity=".3"><circle cx="813.9" cy="476.95" r="10.5" class="cd"/><text transform="translate(809.9 482.05) scale(1 .95)" class="td">s_24</text><rect x="820.6" y="483.15" width="7.5" height="1.5" class="ud"/></g><g opacity=".3"><circle cx="813.9" cy="518.95" r="10.5" class="cd"/><text transform="translate(809.9 524.05) scale(1 .95)" class="td">s_19</text><rect x="820.6" y="525.15" width="7.5" height="1.5" class="ud"/></g><g opacity=".3"><circle cx="813.9" cy="560.95" r="10.5" class="cd"/><text transform="translate(809.9 566.05) scale(1 .95)" class="td">s_14</text><rect x="820.6" y="567.15" width="7.5" height="1.5" class="ud"/></g><g opacity=".3"><circle cx="813.9" cy="602.95" r="10.5" class="cr"/><text transform="translate(809.12 607.15) scale(1 .95)" class="tb">s_9</text><rect x="819.82" y="608.25" width="7.5" height="1.5" class="ur"/></g><g><circle cx="813.9" cy="644.95" r="10.5" class="cd"/><text transform="translate(809.9 650.05) scale(1 .95)" class="td">s_4</text><rect x="820.6" y="651.15" width="7.5" height="1.5" class="ud"/></g><rect x="797.8" y="392.2" width="54" height="22.5" rx="2.5" class="lb"/><text x="806.9" y="409.6" class="lt">AD10</text></g><g><rect x="877.9" y="406.3" width="72" height="269.6" rx="5.2" class="pn"/><g><circle cx="908" cy="436.05" r="10.5" class="cd"/><text transform="translate(904 441.15) scale(1 .95)" class="td">s_28</text><rect x="914.7" y="442.25" width="7.5" height="1.5" class="ud"/></g><g opacity=".3"><circle cx="908" cy="478.05" r="10.5" class="cd"/><text transform="translate(904 483.15) scale(1 .95)" class="td">s_23</text><rect x="914.7" y="484.25" width="7.5" height="1.5" class="ud"/></g><g opacity=".3"><circle cx="908" cy="520.05" r="10.5" class="cd"/><text transform="translate(904 525.15) scale(1 .95)" class="td">s_18</text><rect x="914.7" y="526.25" width="7.5" height="1.5" class="ud"/></g><g opacity=".3"><circle cx="908" cy="562.05" r="10.5" class="cd"/><text transform="translate(904 567.15) scale(1 .95)" class="td">s_13</text><rect x="914.7" y="568.25" width="7.5" height="1.5" class="ud"/></g><g opacity=".3"><circle cx="908" cy="604.05" r="10.5" class="cr"/><text transform="translate(903.22 608.25) scale(1 .95)" class="tb">s_8</text><rect x="913.92" y="609.35" width="7.5" height="1.5" class="ur"/></g><g><circle cx="908" cy="646.05" r="10.5" class="cd"/><text transform="translate(904 651.15) scale(1 .95)" class="td">s_3</text><rect x="914.7" y="652.25" width="7.5" height="1.5" class="ud"/></g><rect x="891.9" y="393.3" width="54" height="22.5" rx="2.5" class="lb"/><text x="901" y="410.7" class="lt">AD09</text></g><g><rect x="971.8" y="406.8" width="72" height="269.6" rx="5.2" class="pn"/><g><circle cx="1001.9" cy="436.55" r="10.5" class="cd"/><text transform="translate(997.9 441.65) scale(1 .95)" class="td">s_27</text><rect x="1008.6" y="442.75" width="7.5" height="1.5" class="ud"/></g><g opacity=".3"><circle cx="1001.9" cy="478.55" r="10.5" class="cd"/><text transform="translate(997.9 483.65) scale(1 .95)" class="td">s_22</text><rect x="1008.6" y="484.75" width="7.5" height="1.5" class="ud"/></g><g opacity=".3"><circle cx="1001.9" cy="520.55" r="10.5" class="cd"/><text transform="translate(997.9 525.65) scale(1 .95)" class="td">s_17</text><rect x="1008.6" y="526.75" width="7.5" height="1.5" class="ud"/></g><g opacity=".3"><circle cx="1001.9" cy="562.55" r="10.5" class="cd"/><text transform="translate(997.9 567.65) scale(1 .95)" class="td">s_12</text><rect x="1008.6" y="568.75" width="7.5" height="1.5" class="ud"/></g><g opacity=".3"><circle cx="1001.9" cy="604.55" r="10.5" class="cr"/><text transform="translate(997.12 608.75) scale(1 .95)" class="tb">s_7</text><rect x="1007.82" y="609.85" width="7.5" height="1.5" class="ur"/></g><g><circle cx="1001.9" cy="646.55" r="10.5" class="cd"/><text transform="translate(997.9 651.65) scale(1 .95)" class="td">s_2</text><rect x="1008.6" y="652.75" width="7.5" height="1.5" class="ud"/></g><rect x="985.8" y="393.8" width="54" height="22.5" rx="2.5" class="lb"/><text x="994.9" y="411.2" class="lt">AD08</text></g><g><rect x="1065.8" y="407.1" width="72" height="269.6" rx="5.2" class="pn"/><g><circle cx="1095.9" cy="436.85" r="10.5" class="cd"/><text transform="translate(1091.9 441.95) scale(1 .95)" class="td">s_26</text><rect x="1102.6" y="443.05" width="7.5" height="1.5" class="ud"/></g><g opacity=".3"><circle cx="1095.9" cy="478.85" r="10.5" class="cd"/><text transform="translate(1091.9 483.95) scale(1 .95)" class="td">s_21</text><rect x="1102.6" y="485.05" width="7.5" height="1.5" class="ud"/></g><g opacity=".3"><circle cx="1095.9" cy="520.85" r="10.5" class="cd"/><text transform="translate(1091.9 525.95) scale(1 .95)" class="td">s_16</text><rect x="1102.6" y="527.05" width="7.5" height="1.5" class="ud"/></g><g opacity=".3"><circle cx="1095.9" cy="562.85" r="10.5" class="cd"/><text transform="translate(1091.9 567.95) scale(1 .95)" class="td">s_11</text><rect x="1102.6" y="569.05" width="7.5" height="1.5" class="ud"/></g><g opacity=".3"><circle cx="1095.9" cy="604.85" r="10.5" class="cr"/><text transform="translate(1091.12 609.05) scale(1 .95)" class="tb">s_6</text><rect x="1101.82" y="610.15" width="7.5" height="1.5" class="ur"/></g><g><circle cx="1095.9" cy="646.85" r="10.5" class="cd"/><text transform="translate(1091.9 651.95) scale(1 .95)" class="td">s_1</text><rect x="1102.6" y="653.05" width="7.5" height="1.5" class="ud"/></g><rect x="1079.8" y="394.1" width="54" height="22.5" rx="2.5" class="lb"/><text x="1088.9" y="411.5" class="lt">AD07</text></g><g><rect x="1159.8" y="407.3" width="72" height="269.6" rx="5.2" class="pn"/><g><circle cx="1189.9" cy="437.05" r="10.5" class="cd"/><text transform="translate(1185.9 442.15) scale(1 .95)" class="td">s_25</text><rect x="1196.6" y="443.25" width="7.5" height="1.5" class="ud"/></g><g opacity=".3"><circle cx="1189.9" cy="479.05" r="10.5" class="cd"/><text transform="translate(1185.9 484.15) scale(1 .95)" class="td">s_20</text><rect x="1196.6" y="485.25" width="7.5" height="1.5" class="ud"/></g><g opacity=".3"><circle cx="1189.9" cy="521.05" r="10.5" class="cd"/><text transform="translate(1185.9 526.15) scale(1 .95)" class="td">s_15</text><rect x="1196.6" y="527.25" width="7.5" height="1.5" class="ud"/></g><g opacity=".3"><circle cx="1189.9" cy="563.05" r="10.5" class="cd"/><text transform="translate(1185.9 568.15) scale(1 .95)" class="td">s_10</text><rect x="1196.6" y="569.25" width="7.5" height="1.5" class="ud"/></g><g opacity=".3"><circle cx="1189.9" cy="605.05" r="10.5" class="cr"/><text transform="translate(1185.12 609.25) scale(1 .95)" class="tb">s_5</text><rect x="1195.82" y="610.35" width="7.5" height="1.5" class="ur"/></g><g><circle cx="1189.9" cy="647.05" r="10.5" class="cd"/><text transform="translate(1185.9 652.15) scale(1 .95)" class="td">s_0</text><rect x="1196.6" y="653.25" width="7.5" height="1.5" class="ud"/></g><rect x="1173.8" y="394.3" width="54" height="22.5" rx="2.5" class="lb"/><text x="1182.9" y="411.7" class="lt">AD06</text></g><rect x="787.2" y="356.8" width="49" height="28" rx="5" class="dl"/><text x="796" y="378.6" class="dt">d_1</text><path d="M809.1,380.55h9.8" class="ub"/></g>
<g opacity=".3"><path d="M687.7,395C758.62,395 766.06,372.11 834,371.04" class="al"/><path d="M824.7,362.9L839.5,371L824.7,379.6Z" class="ah"/><circle cx="687.7" cy="395" r="4.4" class="ac"/></g>
<g opacity=".3"><path d="M660.7,432.9C731.86,432.9 739.32,410.29 807.5,409.24" class="al"/><path d="M798.2,401.1L813,409.2L798.2,417.8Z" class="ah"/><circle cx="660.7" cy="432.9" r="4.4" class="ac"/></g>
<circle cx="498" cy="453" r="4" fill="#000"/>
<circle cx="483.8" cy="467" r="4" fill="#000"/>
<circle cx="469.2" cy="480.5" r="4" fill="#000"/>
<g><rect x="187.7" y="481.85" width="288.4" height="270" rx="5.2" class="pn"/><g><circle cx="217.55" cy="511.95" r="10.5" class="cd"/><text transform="translate(213.55 517.05) scale(1 .95)" class="td">s_29</text><rect x="224.25" y="518.15" width="7.5" height="1.5" class="ud"/></g><g><circle cx="271.55" cy="511.95" r="10.5" class="cd"/><text transform="translate(267.55 517.05) scale(1 .95)" class="td">s_28</text><rect x="278.25" y="518.15" width="7.5" height="1.5" class="ud"/></g><g><circle cx="325.55" cy="511.95" r="10.5" class="cd"/><text transform="translate(321.55 517.05) scale(1 .95)" class="td">s_27</text><rect x="332.25" y="518.15" width="7.5" height="1.5" class="ud"/></g><g><circle cx="379.55" cy="511.95" r="10.5" class="cd"/><text transform="translate(375.55 517.05) scale(1 .95)" class="td">s_26</text><rect x="386.25" y="518.15" width="7.5" height="1.5" class="ud"/></g><g><circle cx="433.55" cy="511.95" r="10.5" class="cd"/><text transform="translate(429.55 517.05) scale(1 .95)" class="td">s_25</text><rect x="440.25" y="518.15" width="7.5" height="1.5" class="ud"/></g><g opacity=".3"><circle cx="217.55" cy="553.95" r="10.5" class="cd"/><text transform="translate(213.55 559.05) scale(1 .95)" class="td">s_24</text><rect x="224.25" y="560.15" width="7.5" height="1.5" class="ud"/></g><g opacity=".3"><circle cx="271.55" cy="553.95" r="10.5" class="cd"/><text transform="translate(267.55 559.05) scale(1 .95)" class="td">s_23</text><rect x="278.25" y="560.15" width="7.5" height="1.5" class="ud"/></g><g opacity=".3"><circle cx="325.55" cy="553.95" r="10.5" class="cd"/><text transform="translate(321.55 559.05) scale(1 .95)" class="td">s_22</text><rect x="332.25" y="560.15" width="7.5" height="1.5" class="ud"/></g><g opacity=".3"><circle cx="379.55" cy="553.95" r="10.5" class="cd"/><text transform="translate(375.55 559.05) scale(1 .95)" class="td">s_21</text><rect x="386.25" y="560.15" width="7.5" height="1.5" class="ud"/></g><g opacity=".3"><circle cx="433.55" cy="553.95" r="10.5" class="cd"/><text transform="translate(429.55 559.05) scale(1 .95)" class="td">s_20</text><rect x="440.25" y="560.15" width="7.5" height="1.5" class="ud"/></g><g opacity=".3"><circle cx="217.55" cy="595.95" r="10.5" class="cd"/><text transform="translate(213.55 601.05) scale(1 .95)" class="td">s_19</text><rect x="224.25" y="602.15" width="7.5" height="1.5" class="ud"/></g><g opacity=".3"><circle cx="271.55" cy="595.95" r="10.5" class="cd"/><text transform="translate(267.55 601.05) scale(1 .95)" class="td">s_18</text><rect x="278.25" y="602.15" width="7.5" height="1.5" class="ud"/></g><g opacity=".3"><circle cx="325.55" cy="595.95" r="10.5" class="cd"/><text transform="translate(321.55 601.05) scale(1 .95)" class="td">s_17</text><rect x="332.25" y="602.15" width="7.5" height="1.5" class="ud"/></g><g opacity=".3"><circle cx="379.55" cy="595.95" r="10.5" class="cd"/><text transform="translate(375.55 601.05) scale(1 .95)" class="td">s_16</text><rect x="386.25" y="602.15" width="7.5" height="1.5" class="ud"/></g><g opacity=".3"><circle cx="433.55" cy="595.95" r="10.5" class="cd"/><text transform="translate(429.55 601.05) scale(1 .95)" class="td">s_15</text><rect x="440.25" y="602.15" width="7.5" height="1.5" class="ud"/></g><g opacity=".3"><circle cx="217.55" cy="637.95" r="10.5" class="cd"/><text transform="translate(213.55 643.05) scale(1 .95)" class="td">s_14</text><rect x="224.25" y="644.15" width="7.5" height="1.5" class="ud"/></g><g opacity=".3"><circle cx="271.55" cy="637.95" r="10.5" class="cd"/><text transform="translate(267.55 643.05) scale(1 .95)" class="td">s_13</text><rect x="278.25" y="644.15" width="7.5" height="1.5" class="ud"/></g><g opacity=".3"><circle cx="325.55" cy="637.95" r="10.5" class="cd"/><text transform="translate(321.55 643.05) scale(1 .95)" class="td">s_12</text><rect x="332.25" y="644.15" width="7.5" height="1.5" class="ud"/></g><g opacity=".3"><circle cx="379.55" cy="637.95" r="10.5" class="cd"/><text transform="translate(375.55 643.05) scale(1 .95)" class="td">s_11</text><rect x="386.25" y="644.15" width="7.5" height="1.5" class="ud"/></g><g opacity=".3"><circle cx="433.55" cy="637.95" r="10.5" class="cd"/><text transform="translate(429.55 643.05) scale(1 .95)" class="td">s_10</text><rect x="440.25" y="644.15" width="7.5" height="1.5" class="ud"/></g><g opacity=".3"><circle cx="217.55" cy="679.95" r="10.5" class="cd"/><text transform="translate(213.55 685.05) scale(1 .95)" class="td">s_9</text><rect x="224.25" y="686.15" width="7.5" height="1.5" class="ud"/></g><g opacity=".3"><circle cx="271.55" cy="679.95" r="10.5" class="cd"/><text transform="translate(267.55 685.05) scale(1 .95)" class="td">s_8</text><rect x="278.25" y="686.15" width="7.5" height="1.5" class="ud"/></g><g opacity=".3"><circle cx="325.55" cy="679.95" r="10.5" class="cd"/><text transform="translate(321.55 685.05) scale(1 .95)" class="td">s_7</text><rect x="332.25" y="686.15" width="7.5" height="1.5" class="ud"/></g><g opacity=".3"><circle cx="379.55" cy="679.95" r="10.5" class="cd"/><text transform="translate(375.55 685.05) scale(1 .95)" class="td">s_6</text><rect x="386.25" y="686.15" width="7.5" height="1.5" class="ud"/></g><g opacity=".3"><circle cx="433.55" cy="679.95" r="10.5" class="cd"/><text transform="translate(429.55 685.05) scale(1 .95)" class="td">s_5</text><rect x="440.25" y="686.15" width="7.5" height="1.5" class="ud"/></g><g><circle cx="217.55" cy="721.95" r="10.5" class="cr"/><text transform="translate(212.77 726.15) scale(1 .95)" class="tr">s_4</text><rect x="223.47" y="727.25" width="7.5" height="1.5" class="ur"/></g><g><circle cx="271.55" cy="721.95" r="10.5" class="cd"/><text transform="translate(267.55 727.05) scale(1 .95)" class="td">s_3</text><rect x="278.25" y="728.15" width="7.5" height="1.5" class="ud"/></g><g><circle cx="325.55" cy="721.95" r="10.5" class="cd"/><text transform="translate(321.55 727.05) scale(1 .95)" class="td">s_2</text><rect x="332.25" y="728.15" width="7.5" height="1.5" class="ud"/></g><g><circle cx="379.55" cy="721.95" r="10.5" class="cd"/><text transform="translate(375.55 727.05) scale(1 .95)" class="td">s_1</text><rect x="386.25" y="728.15" width="7.5" height="1.5" class="ud"/></g><g><circle cx="433.55" cy="721.95" r="10.5" class="cd"/><text transform="translate(429.55 727.05) scale(1 .95)" class="td">s_0</text><rect x="440.25" y="728.15" width="7.5" height="1.5" class="ud"/></g><rect x="201.7" y="468.85" width="54" height="22.5" rx="2.5" class="lb"/><text x="210.8" y="486.75" class="lt">AD05</text></g>
<g><rect x="139.2" y="519.65" width="288.4" height="270" rx="5.2" class="pn"/><g><circle cx="169.05" cy="549.75" r="10.5" class="cd"/><text transform="translate(165.05 554.85) scale(1 .95)" class="td">s_29</text><rect x="175.75" y="555.95" width="7.5" height="1.5" class="ud"/></g><g><circle cx="223.05" cy="549.75" r="10.5" class="cd"/><text transform="translate(219.05 554.85) scale(1 .95)" class="td">s_28</text><rect x="229.75" y="555.95" width="7.5" height="1.5" class="ud"/></g><g><circle cx="277.05" cy="549.75" r="10.5" class="cd"/><text transform="translate(273.05 554.85) scale(1 .95)" class="td">s_27</text><rect x="283.75" y="555.95" width="7.5" height="1.5" class="ud"/></g><g><circle cx="331.05" cy="549.75" r="10.5" class="cd"/><text transform="translate(327.05 554.85) scale(1 .95)" class="td">s_26</text><rect x="337.75" y="555.95" width="7.5" height="1.5" class="ud"/></g><g><circle cx="385.05" cy="549.75" r="10.5" class="cd"/><text transform="translate(381.05 554.85) scale(1 .95)" class="td">s_25</text><rect x="391.75" y="555.95" width="7.5" height="1.5" class="ud"/></g><g opacity=".3"><circle cx="169.05" cy="591.75" r="10.5" class="cd"/><text transform="translate(165.05 596.85) scale(1 .95)" class="td">s_24</text><rect x="175.75" y="597.95" width="7.5" height="1.5" class="ud"/></g><g opacity=".3"><circle cx="223.05" cy="591.75" r="10.5" class="cd"/><text transform="translate(219.05 596.85) scale(1 .95)" class="td">s_23</text><rect x="229.75" y="597.95" width="7.5" height="1.5" class="ud"/></g><g opacity=".3"><circle cx="277.05" cy="591.75" r="10.5" class="cd"/><text transform="translate(273.05 596.85) scale(1 .95)" class="td">s_22</text><rect x="283.75" y="597.95" width="7.5" height="1.5" class="ud"/></g><g opacity=".3"><circle cx="331.05" cy="591.75" r="10.5" class="cd"/><text transform="translate(327.05 596.85) scale(1 .95)" class="td">s_21</text><rect x="337.75" y="597.95" width="7.5" height="1.5" class="ud"/></g><g opacity=".3"><circle cx="385.05" cy="591.75" r="10.5" class="cd"/><text transform="translate(381.05 596.85) scale(1 .95)" class="td">s_20</text><rect x="391.75" y="597.95" width="7.5" height="1.5" class="ud"/></g><g opacity=".3"><circle cx="169.05" cy="633.75" r="10.5" class="cd"/><text transform="translate(165.05 638.85) scale(1 .95)" class="td">s_19</text><rect x="175.75" y="639.95" width="7.5" height="1.5" class="ud"/></g><g opacity=".3"><circle cx="223.05" cy="633.75" r="10.5" class="cd"/><text transform="translate(219.05 638.85) scale(1 .95)" class="td">s_18</text><rect x="229.75" y="639.95" width="7.5" height="1.5" class="ud"/></g><g opacity=".3"><circle cx="277.05" cy="633.75" r="10.5" class="cd"/><text transform="translate(273.05 638.85) scale(1 .95)" class="td">s_17</text><rect x="283.75" y="639.95" width="7.5" height="1.5" class="ud"/></g><g opacity=".3"><circle cx="331.05" cy="633.75" r="10.5" class="cd"/><text transform="translate(327.05 638.85) scale(1 .95)" class="td">s_16</text><rect x="337.75" y="639.95" width="7.5" height="1.5" class="ud"/></g><g opacity=".3"><circle cx="385.05" cy="633.75" r="10.5" class="cd"/><text transform="translate(381.05 638.85) scale(1 .95)" class="td">s_15</text><rect x="391.75" y="639.95" width="7.5" height="1.5" class="ud"/></g><g opacity=".3"><circle cx="169.05" cy="675.75" r="10.5" class="cd"/><text transform="translate(165.05 680.85) scale(1 .95)" class="td">s_14</text><rect x="175.75" y="681.95" width="7.5" height="1.5" class="ud"/></g><g opacity=".3"><circle cx="223.05" cy="675.75" r="10.5" class="cd"/><text transform="translate(219.05 680.85) scale(1 .95)" class="td">s_13</text><rect x="229.75" y="681.95" width="7.5" height="1.5" class="ud"/></g><g opacity=".3"><circle cx="277.05" cy="675.75" r="10.5" class="cd"/><text transform="translate(273.05 680.85) scale(1 .95)" class="td">s_12</text><rect x="283.75" y="681.95" width="7.5" height="1.5" class="ud"/></g><g opacity=".3"><circle cx="331.05" cy="675.75" r="10.5" class="cd"/><text transform="translate(327.05 680.85) scale(1 .95)" class="td">s_11</text><rect x="337.75" y="681.95" width="7.5" height="1.5" class="ud"/></g><g opacity=".3"><circle cx="385.05" cy="675.75" r="10.5" class="cd"/><text transform="translate(381.05 680.85) scale(1 .95)" class="td">s_10</text><rect x="391.75" y="681.95" width="7.5" height="1.5" class="ud"/></g><g opacity=".3"><circle cx="169.05" cy="717.75" r="10.5" class="cd"/><text transform="translate(165.05 722.85) scale(1 .95)" class="td">s_9</text><rect x="175.75" y="723.95" width="7.5" height="1.5" class="ud"/></g><g opacity=".3"><circle cx="223.05" cy="717.75" r="10.5" class="cd"/><text transform="translate(219.05 722.85) scale(1 .95)" class="td">s_8</text><rect x="229.75" y="723.95" width="7.5" height="1.5" class="ud"/></g><g opacity=".3"><circle cx="277.05" cy="717.75" r="10.5" class="cd"/><text transform="translate(273.05 722.85) scale(1 .95)" class="td">s_7</text><rect x="283.75" y="723.95" width="7.5" height="1.5" class="ud"/></g><g opacity=".3"><circle cx="331.05" cy="717.75" r="10.5" class="cd"/><text transform="translate(327.05 722.85) scale(1 .95)" class="td">s_6</text><rect x="337.75" y="723.95" width="7.5" height="1.5" class="ud"/></g><g opacity=".3"><circle cx="385.05" cy="717.75" r="10.5" class="cd"/><text transform="translate(381.05 722.85) scale(1 .95)" class="td">s_5</text><rect x="391.75" y="723.95" width="7.5" height="1.5" class="ud"/></g><g><circle cx="169.05" cy="759.75" r="10.5" class="cd"/><text transform="translate(165.05 764.85) scale(1 .95)" class="td">s_4</text><rect x="175.75" y="765.95" width="7.5" height="1.5" class="ud"/></g><g><circle cx="223.05" cy="759.75" r="10.5" class="cr"/><text transform="translate(218.27 763.95) scale(1 .95)" class="tr">s_3</text><rect x="228.97" y="765.05" width="7.5" height="1.5" class="ur"/></g><g><circle cx="277.05" cy="759.75" r="10.5" class="cd"/><text transform="translate(273.05 764.85) scale(1 .95)" class="td">s_2</text><rect x="283.75" y="765.95" width="7.5" height="1.5" class="ud"/></g><g><circle cx="331.05" cy="759.75" r="10.5" class="cd"/><text transform="translate(327.05 764.85) scale(1 .95)" class="td">s_1</text><rect x="337.75" y="765.95" width="7.5" height="1.5" class="ud"/></g><g><circle cx="385.05" cy="759.75" r="10.5" class="cd"/><text transform="translate(381.05 764.85) scale(1 .95)" class="td">s_0</text><rect x="391.75" y="765.95" width="7.5" height="1.5" class="ud"/></g><rect x="153.2" y="506.65" width="54" height="22.5" rx="2.5" class="lb"/><text x="162.3" y="524.55" class="lt">AD04</text></g>
<g><rect x="92" y="561.75" width="288.4" height="270" rx="5.2" class="pn"/><g><circle cx="121.85" cy="591.85" r="10.5" class="cd"/><text transform="translate(117.85 596.95) scale(1 .95)" class="td">s_29</text><rect x="128.55" y="598.05" width="7.5" height="1.5" class="ud"/></g><g><circle cx="175.85" cy="591.85" r="10.5" class="cd"/><text transform="translate(171.85 596.95) scale(1 .95)" class="td">s_28</text><rect x="182.55" y="598.05" width="7.5" height="1.5" class="ud"/></g><g><circle cx="229.85" cy="591.85" r="10.5" class="cd"/><text transform="translate(225.85 596.95) scale(1 .95)" class="td">s_27</text><rect x="236.55" y="598.05" width="7.5" height="1.5" class="ud"/></g><g><circle cx="283.85" cy="591.85" r="10.5" class="cd"/><text transform="translate(279.85 596.95) scale(1 .95)" class="td">s_26</text><rect x="290.55" y="598.05" width="7.5" height="1.5" class="ud"/></g><g><circle cx="337.85" cy="591.85" r="10.5" class="cd"/><text transform="translate(333.85 596.95) scale(1 .95)" class="td">s_25</text><rect x="344.55" y="598.05" width="7.5" height="1.5" class="ud"/></g><g opacity=".3"><circle cx="121.85" cy="633.85" r="10.5" class="cd"/><text transform="translate(117.85 638.95) scale(1 .95)" class="td">s_24</text><rect x="128.55" y="640.05" width="7.5" height="1.5" class="ud"/></g><g opacity=".3"><circle cx="175.85" cy="633.85" r="10.5" class="cd"/><text transform="translate(171.85 638.95) scale(1 .95)" class="td">s_23</text><rect x="182.55" y="640.05" width="7.5" height="1.5" class="ud"/></g><g opacity=".3"><circle cx="229.85" cy="633.85" r="10.5" class="cd"/><text transform="translate(225.85 638.95) scale(1 .95)" class="td">s_22</text><rect x="236.55" y="640.05" width="7.5" height="1.5" class="ud"/></g><g opacity=".3"><circle cx="283.85" cy="633.85" r="10.5" class="cd"/><text transform="translate(279.85 638.95) scale(1 .95)" class="td">s_21</text><rect x="290.55" y="640.05" width="7.5" height="1.5" class="ud"/></g><g opacity=".3"><circle cx="337.85" cy="633.85" r="10.5" class="cd"/><text transform="translate(333.85 638.95) scale(1 .95)" class="td">s_20</text><rect x="344.55" y="640.05" width="7.5" height="1.5" class="ud"/></g><g opacity=".3"><circle cx="121.85" cy="675.85" r="10.5" class="cd"/><text transform="translate(117.85 680.95) scale(1 .95)" class="td">s_19</text><rect x="128.55" y="682.05" width="7.5" height="1.5" class="ud"/></g><g opacity=".3"><circle cx="175.85" cy="675.85" r="10.5" class="cd"/><text transform="translate(171.85 680.95) scale(1 .95)" class="td">s_18</text><rect x="182.55" y="682.05" width="7.5" height="1.5" class="ud"/></g><g opacity=".3"><circle cx="229.85" cy="675.85" r="10.5" class="cd"/><text transform="translate(225.85 680.95) scale(1 .95)" class="td">s_17</text><rect x="236.55" y="682.05" width="7.5" height="1.5" class="ud"/></g><g opacity=".3"><circle cx="283.85" cy="675.85" r="10.5" class="cd"/><text transform="translate(279.85 680.95) scale(1 .95)" class="td">s_16</text><rect x="290.55" y="682.05" width="7.5" height="1.5" class="ud"/></g><g opacity=".3"><circle cx="337.85" cy="675.85" r="10.5" class="cd"/><text transform="translate(333.85 680.95) scale(1 .95)" class="td">s_15</text><rect x="344.55" y="682.05" width="7.5" height="1.5" class="ud"/></g><g opacity=".3"><circle cx="121.85" cy="717.85" r="10.5" class="cd"/><text transform="translate(117.85 722.95) scale(1 .95)" class="td">s_14</text><rect x="128.55" y="724.05" width="7.5" height="1.5" class="ud"/></g><g opacity=".3"><circle cx="175.85" cy="717.85" r="10.5" class="cd"/><text transform="translate(171.85 722.95) scale(1 .95)" class="td">s_13</text><rect x="182.55" y="724.05" width="7.5" height="1.5" class="ud"/></g><g opacity=".3"><circle cx="229.85" cy="717.85" r="10.5" class="cd"/><text transform="translate(225.85 722.95) scale(1 .95)" class="td">s_12</text><rect x="236.55" y="724.05" width="7.5" height="1.5" class="ud"/></g><g opacity=".3"><circle cx="283.85" cy="717.85" r="10.5" class="cd"/><text transform="translate(279.85 722.95) scale(1 .95)" class="td">s_11</text><rect x="290.55" y="724.05" width="7.5" height="1.5" class="ud"/></g><g opacity=".3"><circle cx="337.85" cy="717.85" r="10.5" class="cd"/><text transform="translate(333.85 722.95) scale(1 .95)" class="td">s_10</text><rect x="344.55" y="724.05" width="7.5" height="1.5" class="ud"/></g><g opacity=".3"><circle cx="121.85" cy="759.85" r="10.5" class="cd"/><text transform="translate(117.85 764.95) scale(1 .95)" class="td">s_9</text><rect x="128.55" y="766.05" width="7.5" height="1.5" class="ud"/></g><g opacity=".3"><circle cx="175.85" cy="759.85" r="10.5" class="cd"/><text transform="translate(171.85 764.95) scale(1 .95)" class="td">s_8</text><rect x="182.55" y="766.05" width="7.5" height="1.5" class="ud"/></g><g opacity=".3"><circle cx="229.85" cy="759.85" r="10.5" class="cd"/><text transform="translate(225.85 764.95) scale(1 .95)" class="td">s_7</text><rect x="236.55" y="766.05" width="7.5" height="1.5" class="ud"/></g><g opacity=".3"><circle cx="283.85" cy="759.85" r="10.5" class="cd"/><text transform="translate(279.85 764.95) scale(1 .95)" class="td">s_6</text><rect x="290.55" y="766.05" width="7.5" height="1.5" class="ud"/></g><g opacity=".3"><circle cx="337.85" cy="759.85" r="10.5" class="cd"/><text transform="translate(333.85 764.95) scale(1 .95)" class="td">s_5</text><rect x="344.55" y="766.05" width="7.5" height="1.5" class="ud"/></g><g><circle cx="121.85" cy="801.85" r="10.5" class="cd"/><text transform="translate(117.85 806.95) scale(1 .95)" class="td">s_4</text><rect x="128.55" y="808.05" width="7.5" height="1.5" class="ud"/></g><g><circle cx="175.85" cy="801.85" r="10.5" class="cd"/><text transform="translate(171.85 806.95) scale(1 .95)" class="td">s_3</text><rect x="182.55" y="808.05" width="7.5" height="1.5" class="ud"/></g><g><circle cx="229.85" cy="801.85" r="10.5" class="cr"/><text transform="translate(225.07 806.05) scale(1 .95)" class="tr">s_2</text><rect x="235.77" y="807.15" width="7.5" height="1.5" class="ur"/></g><g><circle cx="283.85" cy="801.85" r="10.5" class="cd"/><text transform="translate(279.85 806.95) scale(1 .95)" class="td">s_1</text><rect x="290.55" y="808.05" width="7.5" height="1.5" class="ud"/></g><g><circle cx="337.85" cy="801.85" r="10.5" class="cd"/><text transform="translate(333.85 806.95) scale(1 .95)" class="td">s_0</text><rect x="344.55" y="808.05" width="7.5" height="1.5" class="ud"/></g><rect x="106" y="548.75" width="54" height="22.5" rx="2.5" class="lb"/><text x="115.1" y="566.65" class="lt">AD03</text></g>
<g><rect x="45" y="596.75" width="288.4" height="270" rx="5.2" class="pn"/><g><circle cx="74.85" cy="626.85" r="10.5" class="cd"/><text transform="translate(70.85 631.95) scale(1 .95)" class="td">s_29</text><rect x="81.55" y="633.05" width="7.5" height="1.5" class="ud"/></g><g><circle cx="128.85" cy="626.85" r="10.5" class="cd"/><text transform="translate(124.85 631.95) scale(1 .95)" class="td">s_28</text><rect x="135.55" y="633.05" width="7.5" height="1.5" class="ud"/></g><g><circle cx="182.85" cy="626.85" r="10.5" class="cd"/><text transform="translate(178.85 631.95) scale(1 .95)" class="td">s_27</text><rect x="189.55" y="633.05" width="7.5" height="1.5" class="ud"/></g><g><circle cx="236.85" cy="626.85" r="10.5" class="cd"/><text transform="translate(232.85 631.95) scale(1 .95)" class="td">s_26</text><rect x="243.55" y="633.05" width="7.5" height="1.5" class="ud"/></g><g><circle cx="290.85" cy="626.85" r="10.5" class="cd"/><text transform="translate(286.85 631.95) scale(1 .95)" class="td">s_25</text><rect x="297.55" y="633.05" width="7.5" height="1.5" class="ud"/></g><g opacity=".3"><circle cx="74.85" cy="668.85" r="10.5" class="cd"/><text transform="translate(70.85 673.95) scale(1 .95)" class="td">s_24</text><rect x="81.55" y="675.05" width="7.5" height="1.5" class="ud"/></g><g opacity=".3"><circle cx="128.85" cy="668.85" r="10.5" class="cd"/><text transform="translate(124.85 673.95) scale(1 .95)" class="td">s_23</text><rect x="135.55" y="675.05" width="7.5" height="1.5" class="ud"/></g><g opacity=".3"><circle cx="182.85" cy="668.85" r="10.5" class="cd"/><text transform="translate(178.85 673.95) scale(1 .95)" class="td">s_22</text><rect x="189.55" y="675.05" width="7.5" height="1.5" class="ud"/></g><g opacity=".3"><circle cx="236.85" cy="668.85" r="10.5" class="cd"/><text transform="translate(232.85 673.95) scale(1 .95)" class="td">s_21</text><rect x="243.55" y="675.05" width="7.5" height="1.5" class="ud"/></g><g opacity=".3"><circle cx="290.85" cy="668.85" r="10.5" class="cd"/><text transform="translate(286.85 673.95) scale(1 .95)" class="td">s_20</text><rect x="297.55" y="675.05" width="7.5" height="1.5" class="ud"/></g><g opacity=".3"><circle cx="74.85" cy="710.85" r="10.5" class="cd"/><text transform="translate(70.85 715.95) scale(1 .95)" class="td">s_19</text><rect x="81.55" y="717.05" width="7.5" height="1.5" class="ud"/></g><g opacity=".3"><circle cx="128.85" cy="710.85" r="10.5" class="cd"/><text transform="translate(124.85 715.95) scale(1 .95)" class="td">s_18</text><rect x="135.55" y="717.05" width="7.5" height="1.5" class="ud"/></g><g opacity=".3"><circle cx="182.85" cy="710.85" r="10.5" class="cd"/><text transform="translate(178.85 715.95) scale(1 .95)" class="td">s_17</text><rect x="189.55" y="717.05" width="7.5" height="1.5" class="ud"/></g><g opacity=".3"><circle cx="236.85" cy="710.85" r="10.5" class="cd"/><text transform="translate(232.85 715.95) scale(1 .95)" class="td">s_16</text><rect x="243.55" y="717.05" width="7.5" height="1.5" class="ud"/></g><g opacity=".3"><circle cx="290.85" cy="710.85" r="10.5" class="cd"/><text transform="translate(286.85 715.95) scale(1 .95)" class="td">s_15</text><rect x="297.55" y="717.05" width="7.5" height="1.5" class="ud"/></g><g opacity=".3"><circle cx="74.85" cy="752.85" r="10.5" class="cd"/><text transform="translate(70.85 757.95) scale(1 .95)" class="td">s_14</text><rect x="81.55" y="759.05" width="7.5" height="1.5" class="ud"/></g><g opacity=".3"><circle cx="128.85" cy="752.85" r="10.5" class="cd"/><text transform="translate(124.85 757.95) scale(1 .95)" class="td">s_13</text><rect x="135.55" y="759.05" width="7.5" height="1.5" class="ud"/></g><g opacity=".3"><circle cx="182.85" cy="752.85" r="10.5" class="cd"/><text transform="translate(178.85 757.95) scale(1 .95)" class="td">s_12</text><rect x="189.55" y="759.05" width="7.5" height="1.5" class="ud"/></g><g opacity=".3"><circle cx="236.85" cy="752.85" r="10.5" class="cd"/><text transform="translate(232.85 757.95) scale(1 .95)" class="td">s_11</text><rect x="243.55" y="759.05" width="7.5" height="1.5" class="ud"/></g><g opacity=".3"><circle cx="290.85" cy="752.85" r="10.5" class="cd"/><text transform="translate(286.85 757.95) scale(1 .95)" class="td">s_10</text><rect x="297.55" y="759.05" width="7.5" height="1.5" class="ud"/></g><g opacity=".3"><circle cx="74.85" cy="794.85" r="10.5" class="cd"/><text transform="translate(70.85 799.95) scale(1 .95)" class="td">s_9</text><rect x="81.55" y="801.05" width="7.5" height="1.5" class="ud"/></g><g opacity=".3"><circle cx="128.85" cy="794.85" r="10.5" class="cd"/><text transform="translate(124.85 799.95) scale(1 .95)" class="td">s_8</text><rect x="135.55" y="801.05" width="7.5" height="1.5" class="ud"/></g><g opacity=".3"><circle cx="182.85" cy="794.85" r="10.5" class="cd"/><text transform="translate(178.85 799.95) scale(1 .95)" class="td">s_7</text><rect x="189.55" y="801.05" width="7.5" height="1.5" class="ud"/></g><g opacity=".3"><circle cx="236.85" cy="794.85" r="10.5" class="cd"/><text transform="translate(232.85 799.95) scale(1 .95)" class="td">s_6</text><rect x="243.55" y="801.05" width="7.5" height="1.5" class="ud"/></g><g opacity=".3"><circle cx="290.85" cy="794.85" r="10.5" class="cd"/><text transform="translate(286.85 799.95) scale(1 .95)" class="td">s_5</text><rect x="297.55" y="801.05" width="7.5" height="1.5" class="ud"/></g><g><circle cx="74.85" cy="836.85" r="10.5" class="cd"/><text transform="translate(70.85 841.95) scale(1 .95)" class="td">s_4</text><rect x="81.55" y="843.05" width="7.5" height="1.5" class="ud"/></g><g><circle cx="128.85" cy="836.85" r="10.5" class="cd"/><text transform="translate(124.85 841.95) scale(1 .95)" class="td">s_3</text><rect x="135.55" y="843.05" width="7.5" height="1.5" class="ud"/></g><g><circle cx="182.85" cy="836.85" r="10.5" class="cd"/><text transform="translate(178.85 841.95) scale(1 .95)" class="td">s_2</text><rect x="189.55" y="843.05" width="7.5" height="1.5" class="ud"/></g><g><circle cx="236.85" cy="836.85" r="10.5" class="cr"/><text transform="translate(232.07 841.05) scale(1 .95)" class="tr">s_1</text><rect x="242.77" y="842.15" width="7.5" height="1.5" class="ur"/></g><g><circle cx="290.85" cy="836.85" r="10.5" class="cd"/><text transform="translate(286.85 841.95) scale(1 .95)" class="td">s_0</text><rect x="297.55" y="843.05" width="7.5" height="1.5" class="ud"/></g><rect x="59" y="583.75" width="54" height="22.5" rx="2.5" class="lb"/><text x="68.1" y="601.65" class="lt">AD02</text></g>
<g><rect x="1" y="642.75" width="288.4" height="270" rx="5.2" class="pn"/><g><circle cx="30.85" cy="672.85" r="10.5" class="cd"/><text transform="translate(26.85 677.95) scale(1 .95)" class="td">s_29</text><rect x="37.55" y="679.05" width="7.5" height="1.5" class="ud"/></g><g><circle cx="84.85" cy="672.85" r="10.5" class="cd"/><text transform="translate(80.85 677.95) scale(1 .95)" class="td">s_28</text><rect x="91.55" y="679.05" width="7.5" height="1.5" class="ud"/></g><g><circle cx="138.85" cy="672.85" r="10.5" class="cd"/><text transform="translate(134.85 677.95) scale(1 .95)" class="td">s_27</text><rect x="145.55" y="679.05" width="7.5" height="1.5" class="ud"/></g><g><circle cx="192.85" cy="672.85" r="10.5" class="cd"/><text transform="translate(188.85 677.95) scale(1 .95)" class="td">s_26</text><rect x="199.55" y="679.05" width="7.5" height="1.5" class="ud"/></g><g><circle cx="246.85" cy="672.85" r="10.5" class="cd"/><text transform="translate(242.85 677.95) scale(1 .95)" class="td">s_25</text><rect x="253.55" y="679.05" width="7.5" height="1.5" class="ud"/></g><g opacity=".3"><circle cx="30.85" cy="714.85" r="10.5" class="cd"/><text transform="translate(26.85 719.95) scale(1 .95)" class="td">s_24</text><rect x="37.55" y="721.05" width="7.5" height="1.5" class="ud"/></g><g opacity=".3"><circle cx="84.85" cy="714.85" r="10.5" class="cd"/><text transform="translate(80.85 719.95) scale(1 .95)" class="td">s_23</text><rect x="91.55" y="721.05" width="7.5" height="1.5" class="ud"/></g><g opacity=".3"><circle cx="138.85" cy="714.85" r="10.5" class="cd"/><text transform="translate(134.85 719.95) scale(1 .95)" class="td">s_22</text><rect x="145.55" y="721.05" width="7.5" height="1.5" class="ud"/></g><g opacity=".3"><circle cx="192.85" cy="714.85" r="10.5" class="cd"/><text transform="translate(188.85 719.95) scale(1 .95)" class="td">s_21</text><rect x="199.55" y="721.05" width="7.5" height="1.5" class="ud"/></g><g opacity=".3"><circle cx="246.85" cy="714.85" r="10.5" class="cd"/><text transform="translate(242.85 719.95) scale(1 .95)" class="td">s_20</text><rect x="253.55" y="721.05" width="7.5" height="1.5" class="ud"/></g><g opacity=".3"><circle cx="30.85" cy="756.85" r="10.5" class="cd"/><text transform="translate(26.85 761.95) scale(1 .95)" class="td">s_19</text><rect x="37.55" y="763.05" width="7.5" height="1.5" class="ud"/></g><g opacity=".3"><circle cx="84.85" cy="756.85" r="10.5" class="cd"/><text transform="translate(80.85 761.95) scale(1 .95)" class="td">s_18</text><rect x="91.55" y="763.05" width="7.5" height="1.5" class="ud"/></g><g opacity=".3"><circle cx="138.85" cy="756.85" r="10.5" class="cd"/><text transform="translate(134.85 761.95) scale(1 .95)" class="td">s_17</text><rect x="145.55" y="763.05" width="7.5" height="1.5" class="ud"/></g><g opacity=".3"><circle cx="192.85" cy="756.85" r="10.5" class="cd"/><text transform="translate(188.85 761.95) scale(1 .95)" class="td">s_16</text><rect x="199.55" y="763.05" width="7.5" height="1.5" class="ud"/></g><g opacity=".3"><circle cx="246.85" cy="756.85" r="10.5" class="cd"/><text transform="translate(242.85 761.95) scale(1 .95)" class="td">s_15</text><rect x="253.55" y="763.05" width="7.5" height="1.5" class="ud"/></g><g opacity=".3"><circle cx="30.85" cy="798.85" r="10.5" class="cd"/><text transform="translate(26.85 803.95) scale(1 .95)" class="td">s_14</text><rect x="37.55" y="805.05" width="7.5" height="1.5" class="ud"/></g><g opacity=".3"><circle cx="84.85" cy="798.85" r="10.5" class="cd"/><text transform="translate(80.85 803.95) scale(1 .95)" class="td">s_13</text><rect x="91.55" y="805.05" width="7.5" height="1.5" class="ud"/></g><g opacity=".3"><circle cx="138.85" cy="798.85" r="10.5" class="cd"/><text transform="translate(134.85 803.95) scale(1 .95)" class="td">s_12</text><rect x="145.55" y="805.05" width="7.5" height="1.5" class="ud"/></g><g opacity=".3"><circle cx="192.85" cy="798.85" r="10.5" class="cd"/><text transform="translate(188.85 803.95) scale(1 .95)" class="td">s_11</text><rect x="199.55" y="805.05" width="7.5" height="1.5" class="ud"/></g><g opacity=".3"><circle cx="246.85" cy="798.85" r="10.5" class="cd"/><text transform="translate(242.85 803.95) scale(1 .95)" class="td">s_10</text><rect x="253.55" y="805.05" width="7.5" height="1.5" class="ud"/></g><g opacity=".3"><circle cx="30.85" cy="840.85" r="10.5" class="cd"/><text transform="translate(26.85 845.95) scale(1 .95)" class="td">s_9</text><rect x="37.55" y="847.05" width="7.5" height="1.5" class="ud"/></g><g opacity=".3"><circle cx="84.85" cy="840.85" r="10.5" class="cd"/><text transform="translate(80.85 845.95) scale(1 .95)" class="td">s_8</text><rect x="91.55" y="847.05" width="7.5" height="1.5" class="ud"/></g><g opacity=".3"><circle cx="138.85" cy="840.85" r="10.5" class="cd"/><text transform="translate(134.85 845.95) scale(1 .95)" class="td">s_7</text><rect x="145.55" y="847.05" width="7.5" height="1.5" class="ud"/></g><g opacity=".3"><circle cx="192.85" cy="840.85" r="10.5" class="cd"/><text transform="translate(188.85 845.95) scale(1 .95)" class="td">s_6</text><rect x="199.55" y="847.05" width="7.5" height="1.5" class="ud"/></g><g opacity=".3"><circle cx="246.85" cy="840.85" r="10.5" class="cd"/><text transform="translate(242.85 845.95) scale(1 .95)" class="td">s_5</text><rect x="253.55" y="847.05" width="7.5" height="1.5" class="ud"/></g><g><circle cx="30.85" cy="882.85" r="10.5" class="cd"/><text transform="translate(26.85 887.95) scale(1 .95)" class="td">s_4</text><rect x="37.55" y="889.05" width="7.5" height="1.5" class="ud"/></g><g><circle cx="84.85" cy="882.85" r="10.5" class="cd"/><text transform="translate(80.85 887.95) scale(1 .95)" class="td">s_3</text><rect x="91.55" y="889.05" width="7.5" height="1.5" class="ud"/></g><g><circle cx="138.85" cy="882.85" r="10.5" class="cd"/><text transform="translate(134.85 887.95) scale(1 .95)" class="td">s_2</text><rect x="145.55" y="889.05" width="7.5" height="1.5" class="ud"/></g><g><circle cx="192.85" cy="882.85" r="10.5" class="cd"/><text transform="translate(188.85 887.95) scale(1 .95)" class="td">s_1</text><rect x="199.55" y="889.05" width="7.5" height="1.5" class="ud"/></g><g><circle cx="246.85" cy="882.85" r="10.5" class="cr"/><text transform="translate(242.07 887.05) scale(1 .95)" class="tr">s_0</text><rect x="252.77" y="888.15" width="7.5" height="1.5" class="ur"/></g><rect x="15" y="629.75" width="54" height="22.5" rx="2.5" class="lb"/><text x="24.1" y="647.65" class="lt">AD01</text></g>
<g><rect x="636" y="500" width="494.6" height="321.7" rx="5.2" class="dp"/><g><rect x="658.1" y="537.3" width="72" height="269.6" rx="5.2" class="pn"/><g><circle cx="688.2" cy="567.05" r="10.5" class="cd"/><text transform="translate(684.2 572.15) scale(1 .95)" class="td">s_29</text><rect x="694.9" y="573.25" width="7.5" height="1.5" class="ud"/></g><g opacity=".3"><circle cx="688.2" cy="609.05" r="10.5" class="cd"/><text transform="translate(684.2 614.15) scale(1 .95)" class="td">s_24</text><rect x="694.9" y="615.25" width="7.5" height="1.5" class="ud"/></g><g opacity=".3"><circle cx="688.2" cy="651.05" r="10.5" class="cd"/><text transform="translate(684.2 656.15) scale(1 .95)" class="td">s_19</text><rect x="694.9" y="657.25" width="7.5" height="1.5" class="ud"/></g><g opacity=".3"><circle cx="688.2" cy="693.05" r="10.5" class="cd"/><text transform="translate(684.2 698.15) scale(1 .95)" class="td">s_14</text><rect x="694.9" y="699.25" width="7.5" height="1.5" class="ud"/></g><g opacity=".3"><circle cx="688.2" cy="735.05" r="10.5" class="cd"/><text transform="translate(684.2 740.15) scale(1 .95)" class="td">s_9</text><rect x="694.9" y="741.25" width="7.5" height="1.5" class="ud"/></g><g><circle cx="688.2" cy="777.05" r="10.5" class="cr"/><text transform="translate(683.42 781.25) scale(1 .95)" class="tb">s_4</text><rect x="694.12" y="782.35" width="7.5" height="1.5" class="ur"/></g><rect x="672.1" y="524.3" width="54" height="22.5" rx="2.5" class="lb"/><text x="681.2" y="541.7" class="lt">AD05</text></g><g><rect x="751.9" y="538.2" width="72" height="269.6" rx="5.2" class="pn"/><g><circle cx="782" cy="567.95" r="10.5" class="cd"/><text transform="translate(778 573.05) scale(1 .95)" class="td">s_28</text><rect x="788.7" y="574.15" width="7.5" height="1.5" class="ud"/></g><g opacity=".3"><circle cx="782" cy="609.95" r="10.5" class="cd"/><text transform="translate(778 615.05) scale(1 .95)" class="td">s_23</text><rect x="788.7" y="616.15" width="7.5" height="1.5" class="ud"/></g><g opacity=".3"><circle cx="782" cy="651.95" r="10.5" class="cd"/><text transform="translate(778 657.05) scale(1 .95)" class="td">s_18</text><rect x="788.7" y="658.15" width="7.5" height="1.5" class="ud"/></g><g opacity=".3"><circle cx="782" cy="693.95" r="10.5" class="cd"/><text transform="translate(778 699.05) scale(1 .95)" class="td">s_13</text><rect x="788.7" y="700.15" width="7.5" height="1.5" class="ud"/></g><g opacity=".3"><circle cx="782" cy="735.95" r="10.5" class="cd"/><text transform="translate(778 741.05) scale(1 .95)" class="td">s_8</text><rect x="788.7" y="742.15" width="7.5" height="1.5" class="ud"/></g><g><circle cx="782" cy="777.95" r="10.5" class="cr"/><text transform="translate(777.22 782.15) scale(1 .95)" class="tb">s_3</text><rect x="787.92" y="783.25" width="7.5" height="1.5" class="ur"/></g><rect x="765.9" y="525.2" width="54" height="22.5" rx="2.5" class="lb"/><text x="775" y="542.6" class="lt">AD04</text></g><g><rect x="846" y="538.9" width="72" height="269.6" rx="5.2" class="pn"/><g><circle cx="876.1" cy="568.65" r="10.5" class="cd"/><text transform="translate(872.1 573.75) scale(1 .95)" class="td">s_27</text><rect x="882.8" y="574.85" width="7.5" height="1.5" class="ud"/></g><g opacity=".3"><circle cx="876.1" cy="610.65" r="10.5" class="cd"/><text transform="translate(872.1 615.75) scale(1 .95)" class="td">s_22</text><rect x="882.8" y="616.85" width="7.5" height="1.5" class="ud"/></g><g opacity=".3"><circle cx="876.1" cy="652.65" r="10.5" class="cd"/><text transform="translate(872.1 657.75) scale(1 .95)" class="td">s_17</text><rect x="882.8" y="658.85" width="7.5" height="1.5" class="ud"/></g><g opacity=".3"><circle cx="876.1" cy="694.65" r="10.5" class="cd"/><text transform="translate(872.1 699.75) scale(1 .95)" class="td">s_12</text><rect x="882.8" y="700.85" width="7.5" height="1.5" class="ud"/></g><g opacity=".3"><circle cx="876.1" cy="736.65" r="10.5" class="cd"/><text transform="translate(872.1 741.75) scale(1 .95)" class="td">s_7</text><rect x="882.8" y="742.85" width="7.5" height="1.5" class="ud"/></g><g><circle cx="876.1" cy="778.65" r="10.5" class="cr"/><text transform="translate(871.32 782.85) scale(1 .95)" class="tb">s_2</text><rect x="882.02" y="783.95" width="7.5" height="1.5" class="ur"/></g><rect x="860" y="525.9" width="54" height="22.5" rx="2.5" class="lb"/><text x="869.1" y="543.3" class="lt">AD03</text></g><g><rect x="939.8" y="539.2" width="72" height="269.6" rx="5.2" class="pn"/><g><circle cx="969.9" cy="568.95" r="10.5" class="cd"/><text transform="translate(965.9 574.05) scale(1 .95)" class="td">s_26</text><rect x="976.6" y="575.15" width="7.5" height="1.5" class="ud"/></g><g opacity=".3"><circle cx="969.9" cy="610.95" r="10.5" class="cd"/><text transform="translate(965.9 616.05) scale(1 .95)" class="td">s_21</text><rect x="976.6" y="617.15" width="7.5" height="1.5" class="ud"/></g><g opacity=".3"><circle cx="969.9" cy="652.95" r="10.5" class="cd"/><text transform="translate(965.9 658.05) scale(1 .95)" class="td">s_16</text><rect x="976.6" y="659.15" width="7.5" height="1.5" class="ud"/></g><g opacity=".3"><circle cx="969.9" cy="694.95" r="10.5" class="cd"/><text transform="translate(965.9 700.05) scale(1 .95)" class="td">s_11</text><rect x="976.6" y="701.15" width="7.5" height="1.5" class="ud"/></g><g opacity=".3"><circle cx="969.9" cy="736.95" r="10.5" class="cd"/><text transform="translate(965.9 742.05) scale(1 .95)" class="td">s_6</text><rect x="976.6" y="743.15" width="7.5" height="1.5" class="ud"/></g><g><circle cx="969.9" cy="778.95" r="10.5" class="cr"/><text transform="translate(965.12 783.15) scale(1 .95)" class="tb">s_1</text><rect x="975.82" y="784.25" width="7.5" height="1.5" class="ur"/></g><rect x="953.8" y="526.2" width="54" height="22.5" rx="2.5" class="lb"/><text x="962.9" y="543.6" class="lt">AD02</text></g><g><rect x="1034" y="539.3" width="72" height="269.6" rx="5.2" class="pn"/><g><circle cx="1064.1" cy="569.05" r="10.5" class="cd"/><text transform="translate(1060.1 574.15) scale(1 .95)" class="td">s_25</text><rect x="1070.8" y="575.25" width="7.5" height="1.5" class="ud"/></g><g opacity=".3"><circle cx="1064.1" cy="611.05" r="10.5" class="cd"/><text transform="translate(1060.1 616.15) scale(1 .95)" class="td">s_20</text><rect x="1070.8" y="617.25" width="7.5" height="1.5" class="ud"/></g><g opacity=".3"><circle cx="1064.1" cy="653.05" r="10.5" class="cd"/><text transform="translate(1060.1 658.15) scale(1 .95)" class="td">s_15</text><rect x="1070.8" y="659.25" width="7.5" height="1.5" class="ud"/></g><g opacity=".3"><circle cx="1064.1" cy="695.05" r="10.5" class="cd"/><text transform="translate(1060.1 700.15) scale(1 .95)" class="td">s_10</text><rect x="1070.8" y="701.25" width="7.5" height="1.5" class="ud"/></g><g opacity=".3"><circle cx="1064.1" cy="737.05" r="10.5" class="cd"/><text transform="translate(1060.1 742.15) scale(1 .95)" class="td">s_5</text><rect x="1070.8" y="743.25" width="7.5" height="1.5" class="ud"/></g><g><circle cx="1064.1" cy="779.05" r="10.5" class="cr"/><text transform="translate(1059.32 783.25) scale(1 .95)" class="tb">s_0</text><rect x="1070.02" y="784.35" width="7.5" height="1.5" class="ur"/></g><rect x="1048" y="526.3" width="54" height="22.5" rx="2.5" class="lb"/><text x="1057.1" y="543.7" class="lt">AD01</text></g><rect x="661.2" y="489" width="49" height="28" rx="5" class="dl"/><text x="670" y="510.8" class="dt">d_0</text><path d="M683.1,512.75h9.8" class="ub"/></g>
<g><path d="M476.8,606C561.22,606 569.77,574.29 651.2,573.04" class="al"/><path d="M641.9,564.9L656.7,573L641.9,581.6Z" class="ah"/><circle cx="476.8" cy="606" r="4.4" class="ac"/></g>
<g><path d="M428.3,644C581.08,644 595.34,604.08 745.1,603.21" class="al"/><path d="M735.8,595.1L750.6,603.2L735.8,611.8Z" class="ah"/><circle cx="428.3" cy="644" r="4.4" class="ac"/></g>
<g><path d="M381,686C601.75,686 621.68,632.02 839.4,631.21" class="al"/><path d="M830.1,623.1L844.9,631.2L830.1,639.8Z" class="ah"/><circle cx="381" cy="686" r="4.4" class="ac"/></g>
<g><path d="M334,720.6C622.48,720.6 648.05,663.66 933.5,663.01" class="al"/><path d="M924.2,654.9L939,663L924.2,671.6Z" class="ah"/><circle cx="334" cy="720.6" r="4.4" class="ac"/></g>
<g><path d="M289.7,766.9C644.52,766.9 675.62,689.83 1027.4,689.11" class="al"/><path d="M1018.1,681L1032.9,689.1L1018.1,697.7Z" class="ah"/><circle cx="289.7" cy="766.9" r="4.4" class="ac"/></g>
</svg>
</body></html>
